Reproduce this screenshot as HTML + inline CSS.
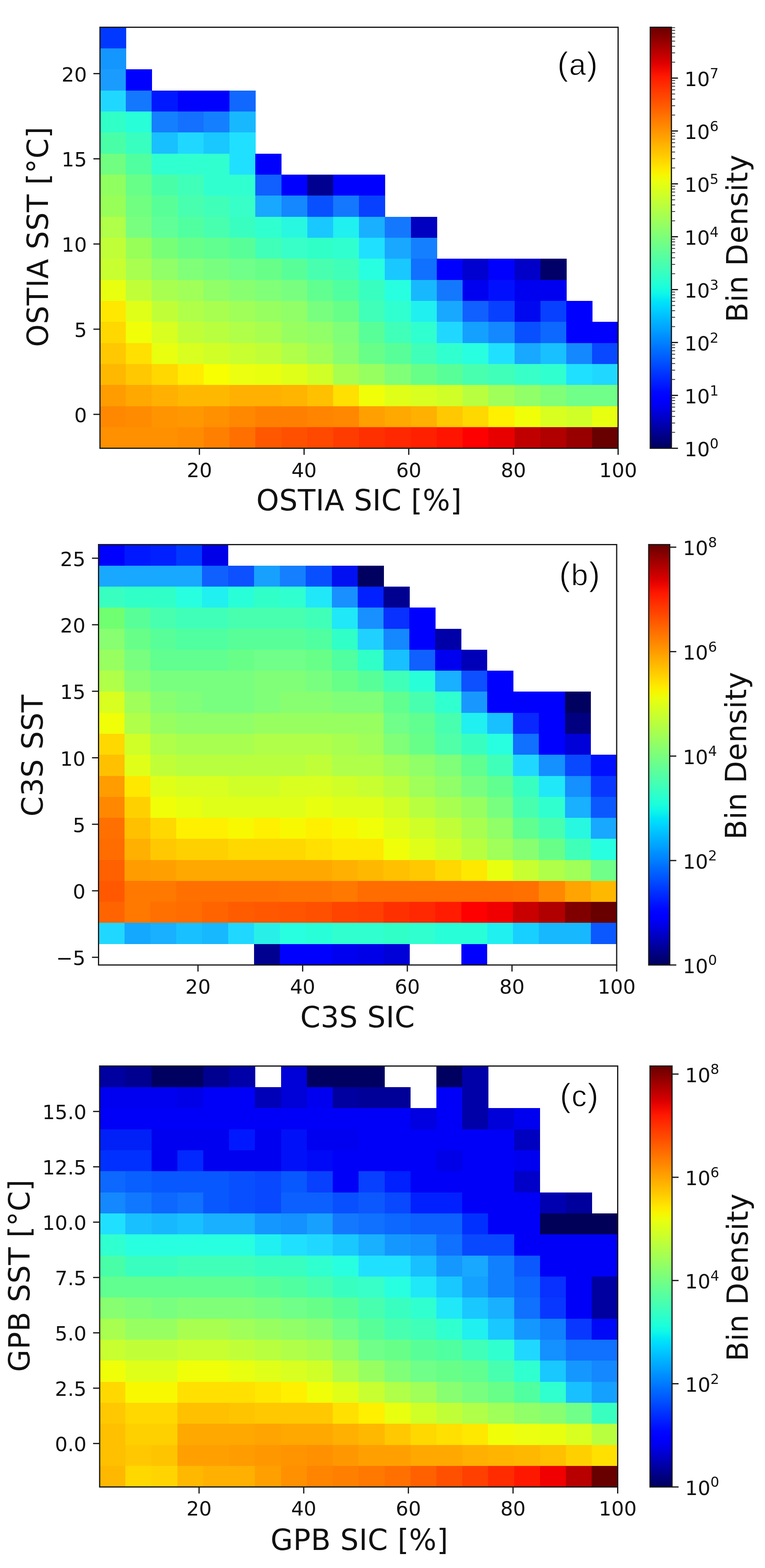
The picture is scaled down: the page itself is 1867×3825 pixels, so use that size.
<!DOCTYPE html>
<html><head><meta charset="utf-8"><title>Bin density histograms</title>
<style>html,body{margin:0;padding:0;background:#fff;} body{width:1867px;height:3825px;overflow:hidden;} svg{display:block;}</style>
</head><body>
<svg width="1867" height="3825" viewBox="0 0 1867 3825">
<rect width="1867" height="3825" fill="#fff"/>
<defs>
<linearGradient id="gA" x1="0" y1="1" x2="0" y2="0">
<stop offset="0.0000" stop-color="#00005c"/>
<stop offset="0.0167" stop-color="#000075"/>
<stop offset="0.0333" stop-color="#00008d"/>
<stop offset="0.0500" stop-color="#0000a6"/>
<stop offset="0.0667" stop-color="#0000bf"/>
<stop offset="0.0833" stop-color="#0000d7"/>
<stop offset="0.1000" stop-color="#0000f0"/>
<stop offset="0.1167" stop-color="#0000ff"/>
<stop offset="0.1333" stop-color="#0008ff"/>
<stop offset="0.1500" stop-color="#0019ff"/>
<stop offset="0.1667" stop-color="#002aff"/>
<stop offset="0.1833" stop-color="#003bff"/>
<stop offset="0.2000" stop-color="#004dff"/>
<stop offset="0.2167" stop-color="#005eff"/>
<stop offset="0.2333" stop-color="#006eff"/>
<stop offset="0.2500" stop-color="#0080ff"/>
<stop offset="0.2667" stop-color="#0090ff"/>
<stop offset="0.2833" stop-color="#00a2ff"/>
<stop offset="0.3000" stop-color="#00b2ff"/>
<stop offset="0.3167" stop-color="#00c3ff"/>
<stop offset="0.3333" stop-color="#00d4ff"/>
<stop offset="0.3500" stop-color="#00e5f7"/>
<stop offset="0.3667" stop-color="#0ef6e9"/>
<stop offset="0.3833" stop-color="#1bffdb"/>
<stop offset="0.4000" stop-color="#29ffce"/>
<stop offset="0.4167" stop-color="#37ffc0"/>
<stop offset="0.4333" stop-color="#45ffb2"/>
<stop offset="0.4500" stop-color="#52ffa5"/>
<stop offset="0.4667" stop-color="#60ff97"/>
<stop offset="0.4833" stop-color="#6eff89"/>
<stop offset="0.5000" stop-color="#7bff7b"/>
<stop offset="0.5167" stop-color="#89ff6e"/>
<stop offset="0.5333" stop-color="#97ff60"/>
<stop offset="0.5500" stop-color="#a5ff52"/>
<stop offset="0.5667" stop-color="#b2ff45"/>
<stop offset="0.5833" stop-color="#c0ff37"/>
<stop offset="0.6000" stop-color="#ceff29"/>
<stop offset="0.6167" stop-color="#dbff1b"/>
<stop offset="0.6333" stop-color="#e9ff0e"/>
<stop offset="0.6500" stop-color="#f7f600"/>
<stop offset="0.6667" stop-color="#ffe600"/>
<stop offset="0.6833" stop-color="#ffd600"/>
<stop offset="0.7000" stop-color="#ffc600"/>
<stop offset="0.7167" stop-color="#ffb700"/>
<stop offset="0.7333" stop-color="#ffa700"/>
<stop offset="0.7500" stop-color="#ff9700"/>
<stop offset="0.7667" stop-color="#ff8700"/>
<stop offset="0.7833" stop-color="#ff7800"/>
<stop offset="0.8000" stop-color="#ff6800"/>
<stop offset="0.8167" stop-color="#ff5800"/>
<stop offset="0.8333" stop-color="#ff4800"/>
<stop offset="0.8500" stop-color="#ff3900"/>
<stop offset="0.8667" stop-color="#ff2900"/>
<stop offset="0.8833" stop-color="#ff1900"/>
<stop offset="0.9000" stop-color="#f10900"/>
<stop offset="0.9167" stop-color="#db0000"/>
<stop offset="0.9333" stop-color="#c40000"/>
<stop offset="0.9500" stop-color="#ad0000"/>
<stop offset="0.9667" stop-color="#960000"/>
<stop offset="0.9833" stop-color="#7f0000"/>
<stop offset="1.0000" stop-color="#690000"/>
</linearGradient>
<linearGradient id="gB" x1="0" y1="1" x2="0" y2="0">
<stop offset="0.0000" stop-color="#00005c"/>
<stop offset="0.0167" stop-color="#000075"/>
<stop offset="0.0333" stop-color="#00008d"/>
<stop offset="0.0500" stop-color="#0000a6"/>
<stop offset="0.0667" stop-color="#0000bf"/>
<stop offset="0.0833" stop-color="#0000d7"/>
<stop offset="0.1000" stop-color="#0000f0"/>
<stop offset="0.1167" stop-color="#0000ff"/>
<stop offset="0.1333" stop-color="#0008ff"/>
<stop offset="0.1500" stop-color="#0019ff"/>
<stop offset="0.1667" stop-color="#002aff"/>
<stop offset="0.1833" stop-color="#003bff"/>
<stop offset="0.2000" stop-color="#004dff"/>
<stop offset="0.2167" stop-color="#005eff"/>
<stop offset="0.2333" stop-color="#006eff"/>
<stop offset="0.2500" stop-color="#0080ff"/>
<stop offset="0.2667" stop-color="#0090ff"/>
<stop offset="0.2833" stop-color="#00a2ff"/>
<stop offset="0.3000" stop-color="#00b2ff"/>
<stop offset="0.3167" stop-color="#00c3ff"/>
<stop offset="0.3333" stop-color="#00d4ff"/>
<stop offset="0.3500" stop-color="#00e5f7"/>
<stop offset="0.3667" stop-color="#0ef6e9"/>
<stop offset="0.3833" stop-color="#1bffdb"/>
<stop offset="0.4000" stop-color="#29ffce"/>
<stop offset="0.4167" stop-color="#37ffc0"/>
<stop offset="0.4333" stop-color="#45ffb2"/>
<stop offset="0.4500" stop-color="#52ffa5"/>
<stop offset="0.4667" stop-color="#60ff97"/>
<stop offset="0.4833" stop-color="#6eff89"/>
<stop offset="0.5000" stop-color="#7bff7b"/>
<stop offset="0.5167" stop-color="#89ff6e"/>
<stop offset="0.5333" stop-color="#97ff60"/>
<stop offset="0.5500" stop-color="#a5ff52"/>
<stop offset="0.5667" stop-color="#b2ff45"/>
<stop offset="0.5833" stop-color="#c0ff37"/>
<stop offset="0.6000" stop-color="#ceff29"/>
<stop offset="0.6167" stop-color="#dbff1b"/>
<stop offset="0.6333" stop-color="#e9ff0e"/>
<stop offset="0.6500" stop-color="#f7f600"/>
<stop offset="0.6667" stop-color="#ffe600"/>
<stop offset="0.6833" stop-color="#ffd600"/>
<stop offset="0.7000" stop-color="#ffc600"/>
<stop offset="0.7167" stop-color="#ffb700"/>
<stop offset="0.7333" stop-color="#ffa700"/>
<stop offset="0.7500" stop-color="#ff9700"/>
<stop offset="0.7667" stop-color="#ff8700"/>
<stop offset="0.7833" stop-color="#ff7800"/>
<stop offset="0.8000" stop-color="#ff6800"/>
<stop offset="0.8167" stop-color="#ff5800"/>
<stop offset="0.8333" stop-color="#ff4800"/>
<stop offset="0.8500" stop-color="#ff3900"/>
<stop offset="0.8667" stop-color="#ff2900"/>
<stop offset="0.8833" stop-color="#ff1900"/>
<stop offset="0.9000" stop-color="#f10900"/>
<stop offset="0.9167" stop-color="#db0000"/>
<stop offset="0.9333" stop-color="#c40000"/>
<stop offset="0.9500" stop-color="#ad0000"/>
<stop offset="0.9667" stop-color="#960000"/>
<stop offset="0.9833" stop-color="#7f0000"/>
<stop offset="1.0000" stop-color="#690000"/>
</linearGradient>
<linearGradient id="gC" x1="0" y1="1" x2="0" y2="0">
<stop offset="0.0000" stop-color="#00005c"/>
<stop offset="0.0167" stop-color="#000075"/>
<stop offset="0.0333" stop-color="#00008d"/>
<stop offset="0.0500" stop-color="#0000a6"/>
<stop offset="0.0667" stop-color="#0000bf"/>
<stop offset="0.0833" stop-color="#0000d7"/>
<stop offset="0.1000" stop-color="#0000f0"/>
<stop offset="0.1167" stop-color="#0000ff"/>
<stop offset="0.1333" stop-color="#0008ff"/>
<stop offset="0.1500" stop-color="#0019ff"/>
<stop offset="0.1667" stop-color="#002aff"/>
<stop offset="0.1833" stop-color="#003bff"/>
<stop offset="0.2000" stop-color="#004dff"/>
<stop offset="0.2167" stop-color="#005eff"/>
<stop offset="0.2333" stop-color="#006eff"/>
<stop offset="0.2500" stop-color="#0080ff"/>
<stop offset="0.2667" stop-color="#0090ff"/>
<stop offset="0.2833" stop-color="#00a2ff"/>
<stop offset="0.3000" stop-color="#00b2ff"/>
<stop offset="0.3167" stop-color="#00c3ff"/>
<stop offset="0.3333" stop-color="#00d4ff"/>
<stop offset="0.3500" stop-color="#00e5f7"/>
<stop offset="0.3667" stop-color="#0ef6e9"/>
<stop offset="0.3833" stop-color="#1bffdb"/>
<stop offset="0.4000" stop-color="#29ffce"/>
<stop offset="0.4167" stop-color="#37ffc0"/>
<stop offset="0.4333" stop-color="#45ffb2"/>
<stop offset="0.4500" stop-color="#52ffa5"/>
<stop offset="0.4667" stop-color="#60ff97"/>
<stop offset="0.4833" stop-color="#6eff89"/>
<stop offset="0.5000" stop-color="#7bff7b"/>
<stop offset="0.5167" stop-color="#89ff6e"/>
<stop offset="0.5333" stop-color="#97ff60"/>
<stop offset="0.5500" stop-color="#a5ff52"/>
<stop offset="0.5667" stop-color="#b2ff45"/>
<stop offset="0.5833" stop-color="#c0ff37"/>
<stop offset="0.6000" stop-color="#ceff29"/>
<stop offset="0.6167" stop-color="#dbff1b"/>
<stop offset="0.6333" stop-color="#e9ff0e"/>
<stop offset="0.6500" stop-color="#f7f600"/>
<stop offset="0.6667" stop-color="#ffe600"/>
<stop offset="0.6833" stop-color="#ffd600"/>
<stop offset="0.7000" stop-color="#ffc600"/>
<stop offset="0.7167" stop-color="#ffb700"/>
<stop offset="0.7333" stop-color="#ffa700"/>
<stop offset="0.7500" stop-color="#ff9700"/>
<stop offset="0.7667" stop-color="#ff8700"/>
<stop offset="0.7833" stop-color="#ff7800"/>
<stop offset="0.8000" stop-color="#ff6800"/>
<stop offset="0.8167" stop-color="#ff5800"/>
<stop offset="0.8333" stop-color="#ff4800"/>
<stop offset="0.8500" stop-color="#ff3900"/>
<stop offset="0.8667" stop-color="#ff2900"/>
<stop offset="0.8833" stop-color="#ff1900"/>
<stop offset="0.9000" stop-color="#f10900"/>
<stop offset="0.9167" stop-color="#db0000"/>
<stop offset="0.9333" stop-color="#c40000"/>
<stop offset="0.9500" stop-color="#ad0000"/>
<stop offset="0.9667" stop-color="#960000"/>
<stop offset="0.9833" stop-color="#7f0000"/>
<stop offset="1.0000" stop-color="#690000"/>
</linearGradient>
</defs>
<g shape-rendering="crispEdges">
<rect x="244.00" y="66.50" width="63.83" height="51.95" fill="#0038ff"/>
<rect x="244.00" y="117.85" width="63.83" height="51.95" fill="#1496ff"/>
<rect x="244.00" y="169.20" width="63.83" height="51.95" fill="#1a9cff"/>
<rect x="307.23" y="169.20" width="63.83" height="51.95" fill="#0000ff"/>
<rect x="244.00" y="220.55" width="63.83" height="51.95" fill="#20d8ff"/>
<rect x="307.23" y="220.55" width="63.83" height="51.95" fill="#1478ff"/>
<rect x="370.45" y="220.55" width="63.83" height="51.95" fill="#0018ff"/>
<rect x="433.68" y="220.55" width="63.83" height="51.95" fill="#0000ff"/>
<rect x="496.90" y="220.55" width="63.83" height="51.95" fill="#0000ff"/>
<rect x="560.12" y="220.55" width="63.83" height="51.95" fill="#1068ff"/>
<rect x="244.00" y="271.90" width="63.83" height="51.95" fill="#30ffc8"/>
<rect x="307.23" y="271.90" width="63.83" height="51.95" fill="#28ffd8"/>
<rect x="370.45" y="271.90" width="63.83" height="51.95" fill="#1480ff"/>
<rect x="433.68" y="271.90" width="63.83" height="51.95" fill="#1470ff"/>
<rect x="496.90" y="271.90" width="63.83" height="51.95" fill="#1480ff"/>
<rect x="560.12" y="271.90" width="63.83" height="51.95" fill="#18b8ff"/>
<rect x="244.00" y="323.25" width="63.83" height="51.95" fill="#48ffa8"/>
<rect x="307.23" y="323.25" width="63.83" height="51.95" fill="#38ffc0"/>
<rect x="370.45" y="323.25" width="63.83" height="51.95" fill="#18c0ff"/>
<rect x="433.68" y="323.25" width="63.83" height="51.95" fill="#20d8ff"/>
<rect x="496.90" y="323.25" width="63.83" height="51.95" fill="#18c8ff"/>
<rect x="560.12" y="323.25" width="63.83" height="51.95" fill="#20e0ff"/>
<rect x="244.00" y="374.60" width="63.83" height="51.95" fill="#70ff80"/>
<rect x="307.23" y="374.60" width="63.83" height="51.95" fill="#50ffa0"/>
<rect x="370.45" y="374.60" width="63.83" height="51.95" fill="#30ffd0"/>
<rect x="433.68" y="374.60" width="63.83" height="51.95" fill="#30ffd0"/>
<rect x="496.90" y="374.60" width="63.83" height="51.95" fill="#30ffd0"/>
<rect x="560.12" y="374.60" width="63.83" height="51.95" fill="#20e0ff"/>
<rect x="623.35" y="374.60" width="63.83" height="51.95" fill="#0000ff"/>
<rect x="244.00" y="425.95" width="63.83" height="51.95" fill="#90ff60"/>
<rect x="307.23" y="425.95" width="63.83" height="51.95" fill="#68ff88"/>
<rect x="370.45" y="425.95" width="63.83" height="51.95" fill="#48ffa8"/>
<rect x="433.68" y="425.95" width="63.83" height="51.95" fill="#40ffb8"/>
<rect x="496.90" y="425.95" width="63.83" height="51.95" fill="#30ffd0"/>
<rect x="560.12" y="425.95" width="63.83" height="51.95" fill="#30ffd0"/>
<rect x="623.35" y="425.95" width="63.83" height="51.95" fill="#1060ff"/>
<rect x="686.58" y="425.95" width="63.83" height="51.95" fill="#0000ff"/>
<rect x="749.80" y="425.95" width="63.83" height="51.95" fill="#000090"/>
<rect x="813.02" y="425.95" width="63.83" height="51.95" fill="#0000ff"/>
<rect x="876.25" y="425.95" width="63.83" height="51.95" fill="#0000ff"/>
<rect x="244.00" y="477.30" width="63.83" height="51.95" fill="#98ff58"/>
<rect x="307.23" y="477.30" width="63.83" height="51.95" fill="#70ff80"/>
<rect x="370.45" y="477.30" width="63.83" height="51.95" fill="#58ff98"/>
<rect x="433.68" y="477.30" width="63.83" height="51.95" fill="#48ffb0"/>
<rect x="496.90" y="477.30" width="63.83" height="51.95" fill="#40ffb8"/>
<rect x="560.12" y="477.30" width="63.83" height="51.95" fill="#38ffc8"/>
<rect x="623.35" y="477.30" width="63.83" height="51.95" fill="#18a8ff"/>
<rect x="686.58" y="477.30" width="63.83" height="51.95" fill="#1488ff"/>
<rect x="749.80" y="477.30" width="63.83" height="51.95" fill="#0850ff"/>
<rect x="813.02" y="477.30" width="63.83" height="51.95" fill="#1478ff"/>
<rect x="876.25" y="477.30" width="63.83" height="51.95" fill="#0840ff"/>
<rect x="244.00" y="528.65" width="63.83" height="51.95" fill="#b0ff48"/>
<rect x="307.23" y="528.65" width="63.83" height="51.95" fill="#78ff80"/>
<rect x="370.45" y="528.65" width="63.83" height="51.95" fill="#60ff98"/>
<rect x="433.68" y="528.65" width="63.83" height="51.95" fill="#50ffa0"/>
<rect x="496.90" y="528.65" width="63.83" height="51.95" fill="#48ffb0"/>
<rect x="560.12" y="528.65" width="63.83" height="51.95" fill="#38ffc0"/>
<rect x="623.35" y="528.65" width="63.83" height="51.95" fill="#30ffd0"/>
<rect x="686.58" y="528.65" width="63.83" height="51.95" fill="#28f8e0"/>
<rect x="749.80" y="528.65" width="63.83" height="51.95" fill="#18c8ff"/>
<rect x="813.02" y="528.65" width="63.83" height="51.95" fill="#20f0f0"/>
<rect x="876.25" y="528.65" width="63.83" height="51.95" fill="#18b0ff"/>
<rect x="939.48" y="528.65" width="63.83" height="51.95" fill="#1478ff"/>
<rect x="1002.70" y="528.65" width="63.83" height="51.95" fill="#0000c0"/>
<rect x="244.00" y="580.00" width="63.83" height="51.95" fill="#c0ff38"/>
<rect x="307.23" y="580.00" width="63.83" height="51.95" fill="#98ff58"/>
<rect x="370.45" y="580.00" width="63.83" height="51.95" fill="#78ff78"/>
<rect x="433.68" y="580.00" width="63.83" height="51.95" fill="#68ff88"/>
<rect x="496.90" y="580.00" width="63.83" height="51.95" fill="#60ff90"/>
<rect x="560.12" y="580.00" width="63.83" height="51.95" fill="#58ff98"/>
<rect x="623.35" y="580.00" width="63.83" height="51.95" fill="#40ffb8"/>
<rect x="686.58" y="580.00" width="63.83" height="51.95" fill="#38ffc8"/>
<rect x="749.80" y="580.00" width="63.83" height="51.95" fill="#30ffc8"/>
<rect x="813.02" y="580.00" width="63.83" height="51.95" fill="#30ffd0"/>
<rect x="876.25" y="580.00" width="63.83" height="51.95" fill="#20e0ff"/>
<rect x="939.48" y="580.00" width="63.83" height="51.95" fill="#18a8ff"/>
<rect x="1002.70" y="580.00" width="63.83" height="51.95" fill="#1480ff"/>
<rect x="244.00" y="631.35" width="63.83" height="51.95" fill="#c8ff30"/>
<rect x="307.23" y="631.35" width="63.83" height="51.95" fill="#a8ff50"/>
<rect x="370.45" y="631.35" width="63.83" height="51.95" fill="#90ff68"/>
<rect x="433.68" y="631.35" width="63.83" height="51.95" fill="#80ff78"/>
<rect x="496.90" y="631.35" width="63.83" height="51.95" fill="#78ff80"/>
<rect x="560.12" y="631.35" width="63.83" height="51.95" fill="#70ff88"/>
<rect x="623.35" y="631.35" width="63.83" height="51.95" fill="#68ff88"/>
<rect x="686.58" y="631.35" width="63.83" height="51.95" fill="#58ff98"/>
<rect x="749.80" y="631.35" width="63.83" height="51.95" fill="#48ffb0"/>
<rect x="813.02" y="631.35" width="63.83" height="51.95" fill="#40ffb8"/>
<rect x="876.25" y="631.35" width="63.83" height="51.95" fill="#28ffe0"/>
<rect x="939.48" y="631.35" width="63.83" height="51.95" fill="#18c8ff"/>
<rect x="1002.70" y="631.35" width="63.83" height="51.95" fill="#1070ff"/>
<rect x="1065.93" y="631.35" width="63.83" height="51.95" fill="#0000ff"/>
<rect x="1129.15" y="631.35" width="63.83" height="51.95" fill="#0000d0"/>
<rect x="1192.38" y="631.35" width="63.83" height="51.95" fill="#0000ff"/>
<rect x="1255.60" y="631.35" width="63.83" height="51.95" fill="#0000c8"/>
<rect x="1318.83" y="631.35" width="63.83" height="51.95" fill="#000068"/>
<rect x="244.00" y="682.70" width="63.83" height="51.95" fill="#e8ff10"/>
<rect x="307.23" y="682.70" width="63.83" height="51.95" fill="#c0ff38"/>
<rect x="370.45" y="682.70" width="63.83" height="51.95" fill="#a8ff50"/>
<rect x="433.68" y="682.70" width="63.83" height="51.95" fill="#a0ff58"/>
<rect x="496.90" y="682.70" width="63.83" height="51.95" fill="#90ff68"/>
<rect x="560.12" y="682.70" width="63.83" height="51.95" fill="#88ff70"/>
<rect x="623.35" y="682.70" width="63.83" height="51.95" fill="#80ff78"/>
<rect x="686.58" y="682.70" width="63.83" height="51.95" fill="#78ff80"/>
<rect x="749.80" y="682.70" width="63.83" height="51.95" fill="#60ff90"/>
<rect x="813.02" y="682.70" width="63.83" height="51.95" fill="#50ffa0"/>
<rect x="876.25" y="682.70" width="63.83" height="51.95" fill="#38ffc0"/>
<rect x="939.48" y="682.70" width="63.83" height="51.95" fill="#28ffe0"/>
<rect x="1002.70" y="682.70" width="63.83" height="51.95" fill="#18b8ff"/>
<rect x="1065.93" y="682.70" width="63.83" height="51.95" fill="#1478ff"/>
<rect x="1129.15" y="682.70" width="63.83" height="51.95" fill="#0000f0"/>
<rect x="1192.38" y="682.70" width="63.83" height="51.95" fill="#0010ff"/>
<rect x="1255.60" y="682.70" width="63.83" height="51.95" fill="#0000f0"/>
<rect x="1318.83" y="682.70" width="63.83" height="51.95" fill="#0000f0"/>
<rect x="244.00" y="734.05" width="63.83" height="51.95" fill="#ffe800"/>
<rect x="307.23" y="734.05" width="63.83" height="51.95" fill="#e0ff18"/>
<rect x="370.45" y="734.05" width="63.83" height="51.95" fill="#c0ff38"/>
<rect x="433.68" y="734.05" width="63.83" height="51.95" fill="#b0ff48"/>
<rect x="496.90" y="734.05" width="63.83" height="51.95" fill="#a8ff50"/>
<rect x="560.12" y="734.05" width="63.83" height="51.95" fill="#a0ff58"/>
<rect x="623.35" y="734.05" width="63.83" height="51.95" fill="#98ff60"/>
<rect x="686.58" y="734.05" width="63.83" height="51.95" fill="#90ff68"/>
<rect x="749.80" y="734.05" width="63.83" height="51.95" fill="#78ff80"/>
<rect x="813.02" y="734.05" width="63.83" height="51.95" fill="#68ff88"/>
<rect x="876.25" y="734.05" width="63.83" height="51.95" fill="#40ffb8"/>
<rect x="939.48" y="734.05" width="63.83" height="51.95" fill="#30ffd0"/>
<rect x="1002.70" y="734.05" width="63.83" height="51.95" fill="#20f0f0"/>
<rect x="1065.93" y="734.05" width="63.83" height="51.95" fill="#18a8ff"/>
<rect x="1129.15" y="734.05" width="63.83" height="51.95" fill="#1060ff"/>
<rect x="1192.38" y="734.05" width="63.83" height="51.95" fill="#0840ff"/>
<rect x="1255.60" y="734.05" width="63.83" height="51.95" fill="#0008f0"/>
<rect x="1318.83" y="734.05" width="63.83" height="51.95" fill="#0840ff"/>
<rect x="1382.05" y="734.05" width="63.83" height="51.95" fill="#0000ff"/>
<rect x="244.00" y="785.40" width="63.83" height="51.95" fill="#ffd800"/>
<rect x="307.23" y="785.40" width="63.83" height="51.95" fill="#f0ff08"/>
<rect x="370.45" y="785.40" width="63.83" height="51.95" fill="#d8ff20"/>
<rect x="433.68" y="785.40" width="63.83" height="51.95" fill="#c0ff38"/>
<rect x="496.90" y="785.40" width="63.83" height="51.95" fill="#b8ff40"/>
<rect x="560.12" y="785.40" width="63.83" height="51.95" fill="#b0ff48"/>
<rect x="623.35" y="785.40" width="63.83" height="51.95" fill="#a8ff50"/>
<rect x="686.58" y="785.40" width="63.83" height="51.95" fill="#98ff60"/>
<rect x="749.80" y="785.40" width="63.83" height="51.95" fill="#90ff68"/>
<rect x="813.02" y="785.40" width="63.83" height="51.95" fill="#80ff78"/>
<rect x="876.25" y="785.40" width="63.83" height="51.95" fill="#58ff98"/>
<rect x="939.48" y="785.40" width="63.83" height="51.95" fill="#40ffb8"/>
<rect x="1002.70" y="785.40" width="63.83" height="51.95" fill="#30ffd0"/>
<rect x="1065.93" y="785.40" width="63.83" height="51.95" fill="#20d8ff"/>
<rect x="1129.15" y="785.40" width="63.83" height="51.95" fill="#14a0ff"/>
<rect x="1192.38" y="785.40" width="63.83" height="51.95" fill="#1488ff"/>
<rect x="1255.60" y="785.40" width="63.83" height="51.95" fill="#0850ff"/>
<rect x="1318.83" y="785.40" width="63.83" height="51.95" fill="#0c68ff"/>
<rect x="1382.05" y="785.40" width="63.83" height="51.95" fill="#0000ff"/>
<rect x="1445.28" y="785.40" width="63.83" height="51.95" fill="#0000ff"/>
<rect x="244.00" y="836.75" width="63.83" height="51.95" fill="#ffc800"/>
<rect x="307.23" y="836.75" width="63.83" height="51.95" fill="#ffe000"/>
<rect x="370.45" y="836.75" width="63.83" height="51.95" fill="#e8ff10"/>
<rect x="433.68" y="836.75" width="63.83" height="51.95" fill="#d8ff20"/>
<rect x="496.90" y="836.75" width="63.83" height="51.95" fill="#d0ff28"/>
<rect x="560.12" y="836.75" width="63.83" height="51.95" fill="#c8ff30"/>
<rect x="623.35" y="836.75" width="63.83" height="51.95" fill="#c0ff38"/>
<rect x="686.58" y="836.75" width="63.83" height="51.95" fill="#b0ff48"/>
<rect x="749.80" y="836.75" width="63.83" height="51.95" fill="#a0ff58"/>
<rect x="813.02" y="836.75" width="63.83" height="51.95" fill="#88ff70"/>
<rect x="876.25" y="836.75" width="63.83" height="51.95" fill="#68ff88"/>
<rect x="939.48" y="836.75" width="63.83" height="51.95" fill="#58ff98"/>
<rect x="1002.70" y="836.75" width="63.83" height="51.95" fill="#40ffb8"/>
<rect x="1065.93" y="836.75" width="63.83" height="51.95" fill="#30ffd0"/>
<rect x="1129.15" y="836.75" width="63.83" height="51.95" fill="#28ffe0"/>
<rect x="1192.38" y="836.75" width="63.83" height="51.95" fill="#20e0ff"/>
<rect x="1255.60" y="836.75" width="63.83" height="51.95" fill="#18a8ff"/>
<rect x="1318.83" y="836.75" width="63.83" height="51.95" fill="#18c0ff"/>
<rect x="1382.05" y="836.75" width="63.83" height="51.95" fill="#1488ff"/>
<rect x="1445.28" y="836.75" width="63.83" height="51.95" fill="#0848ff"/>
<rect x="244.00" y="888.10" width="63.83" height="51.95" fill="#ffb800"/>
<rect x="307.23" y="888.10" width="63.83" height="51.95" fill="#ffc800"/>
<rect x="370.45" y="888.10" width="63.83" height="51.95" fill="#ffd800"/>
<rect x="433.68" y="888.10" width="63.83" height="51.95" fill="#ffec00"/>
<rect x="496.90" y="888.10" width="63.83" height="51.95" fill="#f8ff00"/>
<rect x="560.12" y="888.10" width="63.83" height="51.95" fill="#ecff10"/>
<rect x="623.35" y="888.10" width="63.83" height="51.95" fill="#e8ff10"/>
<rect x="686.58" y="888.10" width="63.83" height="51.95" fill="#e0ff18"/>
<rect x="749.80" y="888.10" width="63.83" height="51.95" fill="#d0ff28"/>
<rect x="813.02" y="888.10" width="63.83" height="51.95" fill="#a8ff50"/>
<rect x="876.25" y="888.10" width="63.83" height="51.95" fill="#98ff60"/>
<rect x="939.48" y="888.10" width="63.83" height="51.95" fill="#80ff78"/>
<rect x="1002.70" y="888.10" width="63.83" height="51.95" fill="#68ff88"/>
<rect x="1065.93" y="888.10" width="63.83" height="51.95" fill="#58ff98"/>
<rect x="1129.15" y="888.10" width="63.83" height="51.95" fill="#48ffb0"/>
<rect x="1192.38" y="888.10" width="63.83" height="51.95" fill="#40ffb8"/>
<rect x="1255.60" y="888.10" width="63.83" height="51.95" fill="#38ffc8"/>
<rect x="1318.83" y="888.10" width="63.83" height="51.95" fill="#30ffd0"/>
<rect x="1382.05" y="888.10" width="63.83" height="51.95" fill="#20e0ff"/>
<rect x="1445.28" y="888.10" width="63.83" height="51.95" fill="#20d8ff"/>
<rect x="244.00" y="939.45" width="63.83" height="51.95" fill="#ff9c00"/>
<rect x="307.23" y="939.45" width="63.83" height="51.95" fill="#ffa800"/>
<rect x="370.45" y="939.45" width="63.83" height="51.95" fill="#ffb000"/>
<rect x="433.68" y="939.45" width="63.83" height="51.95" fill="#ffb800"/>
<rect x="496.90" y="939.45" width="63.83" height="51.95" fill="#ffb800"/>
<rect x="560.12" y="939.45" width="63.83" height="51.95" fill="#ffb000"/>
<rect x="623.35" y="939.45" width="63.83" height="51.95" fill="#ffb000"/>
<rect x="686.58" y="939.45" width="63.83" height="51.95" fill="#ffb400"/>
<rect x="749.80" y="939.45" width="63.83" height="51.95" fill="#ffc000"/>
<rect x="813.02" y="939.45" width="63.83" height="51.95" fill="#ffe000"/>
<rect x="876.25" y="939.45" width="63.83" height="51.95" fill="#f0ff08"/>
<rect x="939.48" y="939.45" width="63.83" height="51.95" fill="#e0ff18"/>
<rect x="1002.70" y="939.45" width="63.83" height="51.95" fill="#d8ff20"/>
<rect x="1065.93" y="939.45" width="63.83" height="51.95" fill="#d0ff28"/>
<rect x="1129.15" y="939.45" width="63.83" height="51.95" fill="#b8ff40"/>
<rect x="1192.38" y="939.45" width="63.83" height="51.95" fill="#a0ff58"/>
<rect x="1255.60" y="939.45" width="63.83" height="51.95" fill="#90ff68"/>
<rect x="1318.83" y="939.45" width="63.83" height="51.95" fill="#80ff78"/>
<rect x="1382.05" y="939.45" width="63.83" height="51.95" fill="#70ff88"/>
<rect x="1445.28" y="939.45" width="63.83" height="51.95" fill="#70ff88"/>
<rect x="244.00" y="990.80" width="63.83" height="51.95" fill="#ff8800"/>
<rect x="307.23" y="990.80" width="63.83" height="51.95" fill="#ff8c00"/>
<rect x="370.45" y="990.80" width="63.83" height="51.95" fill="#ff9400"/>
<rect x="433.68" y="990.80" width="63.83" height="51.95" fill="#ff9800"/>
<rect x="496.90" y="990.80" width="63.83" height="51.95" fill="#ff9000"/>
<rect x="560.12" y="990.80" width="63.83" height="51.95" fill="#ff8800"/>
<rect x="623.35" y="990.80" width="63.83" height="51.95" fill="#ff8000"/>
<rect x="686.58" y="990.80" width="63.83" height="51.95" fill="#ff8000"/>
<rect x="749.80" y="990.80" width="63.83" height="51.95" fill="#ff8400"/>
<rect x="813.02" y="990.80" width="63.83" height="51.95" fill="#ff8800"/>
<rect x="876.25" y="990.80" width="63.83" height="51.95" fill="#ffa000"/>
<rect x="939.48" y="990.80" width="63.83" height="51.95" fill="#ffa800"/>
<rect x="1002.70" y="990.80" width="63.83" height="51.95" fill="#ffb000"/>
<rect x="1065.93" y="990.80" width="63.83" height="51.95" fill="#ffc800"/>
<rect x="1129.15" y="990.80" width="63.83" height="51.95" fill="#ffd800"/>
<rect x="1192.38" y="990.80" width="63.83" height="51.95" fill="#fff000"/>
<rect x="1255.60" y="990.80" width="63.83" height="51.95" fill="#f0ff08"/>
<rect x="1318.83" y="990.80" width="63.83" height="51.95" fill="#d8ff20"/>
<rect x="1382.05" y="990.80" width="63.83" height="51.95" fill="#d0ff28"/>
<rect x="1445.28" y="990.80" width="63.83" height="51.95" fill="#e8ff10"/>
<rect x="244.00" y="1042.15" width="63.83" height="51.95" fill="#ff9000"/>
<rect x="307.23" y="1042.15" width="63.83" height="51.95" fill="#ff9000"/>
<rect x="370.45" y="1042.15" width="63.83" height="51.95" fill="#ff9000"/>
<rect x="433.68" y="1042.15" width="63.83" height="51.95" fill="#ff8c00"/>
<rect x="496.90" y="1042.15" width="63.83" height="51.95" fill="#ff8000"/>
<rect x="560.12" y="1042.15" width="63.83" height="51.95" fill="#ff7000"/>
<rect x="623.35" y="1042.15" width="63.83" height="51.95" fill="#ff5800"/>
<rect x="686.58" y="1042.15" width="63.83" height="51.95" fill="#ff5000"/>
<rect x="749.80" y="1042.15" width="63.83" height="51.95" fill="#ff4800"/>
<rect x="813.02" y="1042.15" width="63.83" height="51.95" fill="#ff3c00"/>
<rect x="876.25" y="1042.15" width="63.83" height="51.95" fill="#ff3000"/>
<rect x="939.48" y="1042.15" width="63.83" height="51.95" fill="#ff2800"/>
<rect x="1002.70" y="1042.15" width="63.83" height="51.95" fill="#ff2000"/>
<rect x="1065.93" y="1042.15" width="63.83" height="51.95" fill="#ff1400"/>
<rect x="1129.15" y="1042.15" width="63.83" height="51.95" fill="#ff0000"/>
<rect x="1192.38" y="1042.15" width="63.83" height="51.95" fill="#e80000"/>
<rect x="1255.60" y="1042.15" width="63.83" height="51.95" fill="#c00000"/>
<rect x="1318.83" y="1042.15" width="63.83" height="51.95" fill="#b00000"/>
<rect x="1382.05" y="1042.15" width="63.83" height="51.95" fill="#980000"/>
<rect x="1445.28" y="1042.15" width="63.83" height="51.95" fill="#680000"/>
</g>
<rect x="244.00" y="66.50" width="1264.50" height="1027.00" fill="none" stroke="#1a1a1a" stroke-width="3.0"/>
<line x1="486.68" y1="1093.50" x2="486.68" y2="1109.50" stroke="#1a1a1a" stroke-width="3.0"/>
<text x="486.68" y="1163.50" font-family="'DejaVu Sans', 'Liberation Sans', sans-serif" font-size="48.5" text-anchor="middle" fill="#111" >20</text>
<line x1="742.14" y1="1093.50" x2="742.14" y2="1109.50" stroke="#1a1a1a" stroke-width="3.0"/>
<text x="742.14" y="1163.50" font-family="'DejaVu Sans', 'Liberation Sans', sans-serif" font-size="48.5" text-anchor="middle" fill="#111" >40</text>
<line x1="997.59" y1="1093.50" x2="997.59" y2="1109.50" stroke="#1a1a1a" stroke-width="3.0"/>
<text x="997.59" y="1163.50" font-family="'DejaVu Sans', 'Liberation Sans', sans-serif" font-size="48.5" text-anchor="middle" fill="#111" >60</text>
<line x1="1253.05" y1="1093.50" x2="1253.05" y2="1109.50" stroke="#1a1a1a" stroke-width="3.0"/>
<text x="1253.05" y="1163.50" font-family="'DejaVu Sans', 'Liberation Sans', sans-serif" font-size="48.5" text-anchor="middle" fill="#111" >80</text>
<line x1="1508.50" y1="1093.50" x2="1508.50" y2="1109.50" stroke="#1a1a1a" stroke-width="3.0"/>
<text x="1508.50" y="1163.50" font-family="'DejaVu Sans', 'Liberation Sans', sans-serif" font-size="48.5" text-anchor="middle" fill="#111" >100</text>
<line x1="228.00" y1="1010.80" x2="244.00" y2="1010.80" stroke="#1a1a1a" stroke-width="3.0"/>
<text x="212.00" y="1029.80" font-family="'DejaVu Sans', 'Liberation Sans', sans-serif" font-size="48.5" text-anchor="end" fill="#111" >0</text>
<line x1="228.00" y1="803.00" x2="244.00" y2="803.00" stroke="#1a1a1a" stroke-width="3.0"/>
<text x="212.00" y="822.00" font-family="'DejaVu Sans', 'Liberation Sans', sans-serif" font-size="48.5" text-anchor="end" fill="#111" >5</text>
<line x1="228.00" y1="595.20" x2="244.00" y2="595.20" stroke="#1a1a1a" stroke-width="3.0"/>
<text x="212.00" y="614.20" font-family="'DejaVu Sans', 'Liberation Sans', sans-serif" font-size="48.5" text-anchor="end" fill="#111" >10</text>
<line x1="228.00" y1="387.40" x2="244.00" y2="387.40" stroke="#1a1a1a" stroke-width="3.0"/>
<text x="212.00" y="406.40" font-family="'DejaVu Sans', 'Liberation Sans', sans-serif" font-size="48.5" text-anchor="end" fill="#111" >15</text>
<line x1="228.00" y1="179.60" x2="244.00" y2="179.60" stroke="#1a1a1a" stroke-width="3.0"/>
<text x="212.00" y="198.60" font-family="'DejaVu Sans', 'Liberation Sans', sans-serif" font-size="48.5" text-anchor="end" fill="#111" >20</text>
<text transform="translate(116.80,577.70) rotate(-90)" font-family="'DejaVu Sans', 'Liberation Sans', sans-serif" font-size="70.5" letter-spacing="0.6" text-anchor="middle" fill="#111" >OSTIA SST [°C]</text>
<text x="876.25" y="1244.80" font-family="'DejaVu Sans', 'Liberation Sans', sans-serif" font-size="70.5" letter-spacing="0.6" text-anchor="middle" fill="#111" >OSTIA SIC [%]</text>
<rect x="1587.00" y="66.50" width="51.60" height="1027.00" fill="url(#gA)"/>
<rect x="1587.00" y="66.50" width="51.60" height="1027.00" fill="none" stroke="#1a1a1a" stroke-width="3.0"/>
<line x1="1638.60" y1="1093.50" x2="1654.60" y2="1093.50" stroke="#1a1a1a" stroke-width="3.0"/>
<text x="1670.60" y="1113.00" font-family="'DejaVu Sans', 'Liberation Sans', sans-serif" font-size="48.5" fill="#111" >10<tspan dy="-19.5" font-size="33.9">0</tspan></text>
<line x1="1638.60" y1="964.50" x2="1654.60" y2="964.50" stroke="#1a1a1a" stroke-width="3.0"/>
<text x="1670.60" y="984.00" font-family="'DejaVu Sans', 'Liberation Sans', sans-serif" font-size="48.5" fill="#111" >10<tspan dy="-19.5" font-size="33.9">1</tspan></text>
<line x1="1638.60" y1="835.50" x2="1654.60" y2="835.50" stroke="#1a1a1a" stroke-width="3.0"/>
<text x="1670.60" y="855.00" font-family="'DejaVu Sans', 'Liberation Sans', sans-serif" font-size="48.5" fill="#111" >10<tspan dy="-19.5" font-size="33.9">2</tspan></text>
<line x1="1638.60" y1="706.50" x2="1654.60" y2="706.50" stroke="#1a1a1a" stroke-width="3.0"/>
<text x="1670.60" y="726.00" font-family="'DejaVu Sans', 'Liberation Sans', sans-serif" font-size="48.5" fill="#111" >10<tspan dy="-19.5" font-size="33.9">3</tspan></text>
<line x1="1638.60" y1="577.50" x2="1654.60" y2="577.50" stroke="#1a1a1a" stroke-width="3.0"/>
<text x="1670.60" y="597.00" font-family="'DejaVu Sans', 'Liberation Sans', sans-serif" font-size="48.5" fill="#111" >10<tspan dy="-19.5" font-size="33.9">4</tspan></text>
<line x1="1638.60" y1="448.50" x2="1654.60" y2="448.50" stroke="#1a1a1a" stroke-width="3.0"/>
<text x="1670.60" y="468.00" font-family="'DejaVu Sans', 'Liberation Sans', sans-serif" font-size="48.5" fill="#111" >10<tspan dy="-19.5" font-size="33.9">5</tspan></text>
<line x1="1638.60" y1="319.50" x2="1654.60" y2="319.50" stroke="#1a1a1a" stroke-width="3.0"/>
<text x="1670.60" y="339.00" font-family="'DejaVu Sans', 'Liberation Sans', sans-serif" font-size="48.5" fill="#111" >10<tspan dy="-19.5" font-size="33.9">6</tspan></text>
<line x1="1638.60" y1="190.50" x2="1654.60" y2="190.50" stroke="#1a1a1a" stroke-width="3.0"/>
<text x="1670.60" y="210.00" font-family="'DejaVu Sans', 'Liberation Sans', sans-serif" font-size="48.5" fill="#111" >10<tspan dy="-19.5" font-size="33.9">7</tspan></text>
<line x1="1638.60" y1="1054.67" x2="1647.60" y2="1054.67" stroke="#333" stroke-width="2.0"/>
<line x1="1638.60" y1="1031.95" x2="1647.60" y2="1031.95" stroke="#333" stroke-width="2.0"/>
<line x1="1638.60" y1="1015.83" x2="1647.60" y2="1015.83" stroke="#333" stroke-width="2.0"/>
<line x1="1638.60" y1="1003.33" x2="1647.60" y2="1003.33" stroke="#333" stroke-width="2.0"/>
<line x1="1638.60" y1="993.12" x2="1647.60" y2="993.12" stroke="#333" stroke-width="2.0"/>
<line x1="1638.60" y1="984.48" x2="1647.60" y2="984.48" stroke="#333" stroke-width="2.0"/>
<line x1="1638.60" y1="977.00" x2="1647.60" y2="977.00" stroke="#333" stroke-width="2.0"/>
<line x1="1638.60" y1="970.40" x2="1647.60" y2="970.40" stroke="#333" stroke-width="2.0"/>
<line x1="1638.60" y1="925.67" x2="1647.60" y2="925.67" stroke="#333" stroke-width="2.0"/>
<line x1="1638.60" y1="902.95" x2="1647.60" y2="902.95" stroke="#333" stroke-width="2.0"/>
<line x1="1638.60" y1="886.83" x2="1647.60" y2="886.83" stroke="#333" stroke-width="2.0"/>
<line x1="1638.60" y1="874.33" x2="1647.60" y2="874.33" stroke="#333" stroke-width="2.0"/>
<line x1="1638.60" y1="864.12" x2="1647.60" y2="864.12" stroke="#333" stroke-width="2.0"/>
<line x1="1638.60" y1="855.48" x2="1647.60" y2="855.48" stroke="#333" stroke-width="2.0"/>
<line x1="1638.60" y1="848.00" x2="1647.60" y2="848.00" stroke="#333" stroke-width="2.0"/>
<line x1="1638.60" y1="841.40" x2="1647.60" y2="841.40" stroke="#333" stroke-width="2.0"/>
<line x1="1638.60" y1="796.67" x2="1647.60" y2="796.67" stroke="#333" stroke-width="2.0"/>
<line x1="1638.60" y1="773.95" x2="1647.60" y2="773.95" stroke="#333" stroke-width="2.0"/>
<line x1="1638.60" y1="757.83" x2="1647.60" y2="757.83" stroke="#333" stroke-width="2.0"/>
<line x1="1638.60" y1="745.33" x2="1647.60" y2="745.33" stroke="#333" stroke-width="2.0"/>
<line x1="1638.60" y1="735.12" x2="1647.60" y2="735.12" stroke="#333" stroke-width="2.0"/>
<line x1="1638.60" y1="726.48" x2="1647.60" y2="726.48" stroke="#333" stroke-width="2.0"/>
<line x1="1638.60" y1="719.00" x2="1647.60" y2="719.00" stroke="#333" stroke-width="2.0"/>
<line x1="1638.60" y1="712.40" x2="1647.60" y2="712.40" stroke="#333" stroke-width="2.0"/>
<line x1="1638.60" y1="667.67" x2="1647.60" y2="667.67" stroke="#333" stroke-width="2.0"/>
<line x1="1638.60" y1="644.95" x2="1647.60" y2="644.95" stroke="#333" stroke-width="2.0"/>
<line x1="1638.60" y1="628.83" x2="1647.60" y2="628.83" stroke="#333" stroke-width="2.0"/>
<line x1="1638.60" y1="616.33" x2="1647.60" y2="616.33" stroke="#333" stroke-width="2.0"/>
<line x1="1638.60" y1="606.12" x2="1647.60" y2="606.12" stroke="#333" stroke-width="2.0"/>
<line x1="1638.60" y1="597.48" x2="1647.60" y2="597.48" stroke="#333" stroke-width="2.0"/>
<line x1="1638.60" y1="590.00" x2="1647.60" y2="590.00" stroke="#333" stroke-width="2.0"/>
<line x1="1638.60" y1="583.40" x2="1647.60" y2="583.40" stroke="#333" stroke-width="2.0"/>
<line x1="1638.60" y1="538.67" x2="1647.60" y2="538.67" stroke="#333" stroke-width="2.0"/>
<line x1="1638.60" y1="515.95" x2="1647.60" y2="515.95" stroke="#333" stroke-width="2.0"/>
<line x1="1638.60" y1="499.83" x2="1647.60" y2="499.83" stroke="#333" stroke-width="2.0"/>
<line x1="1638.60" y1="487.33" x2="1647.60" y2="487.33" stroke="#333" stroke-width="2.0"/>
<line x1="1638.60" y1="477.12" x2="1647.60" y2="477.12" stroke="#333" stroke-width="2.0"/>
<line x1="1638.60" y1="468.48" x2="1647.60" y2="468.48" stroke="#333" stroke-width="2.0"/>
<line x1="1638.60" y1="461.00" x2="1647.60" y2="461.00" stroke="#333" stroke-width="2.0"/>
<line x1="1638.60" y1="454.40" x2="1647.60" y2="454.40" stroke="#333" stroke-width="2.0"/>
<line x1="1638.60" y1="409.67" x2="1647.60" y2="409.67" stroke="#333" stroke-width="2.0"/>
<line x1="1638.60" y1="386.95" x2="1647.60" y2="386.95" stroke="#333" stroke-width="2.0"/>
<line x1="1638.60" y1="370.83" x2="1647.60" y2="370.83" stroke="#333" stroke-width="2.0"/>
<line x1="1638.60" y1="358.33" x2="1647.60" y2="358.33" stroke="#333" stroke-width="2.0"/>
<line x1="1638.60" y1="348.12" x2="1647.60" y2="348.12" stroke="#333" stroke-width="2.0"/>
<line x1="1638.60" y1="339.48" x2="1647.60" y2="339.48" stroke="#333" stroke-width="2.0"/>
<line x1="1638.60" y1="332.00" x2="1647.60" y2="332.00" stroke="#333" stroke-width="2.0"/>
<line x1="1638.60" y1="325.40" x2="1647.60" y2="325.40" stroke="#333" stroke-width="2.0"/>
<line x1="1638.60" y1="280.67" x2="1647.60" y2="280.67" stroke="#333" stroke-width="2.0"/>
<line x1="1638.60" y1="257.95" x2="1647.60" y2="257.95" stroke="#333" stroke-width="2.0"/>
<line x1="1638.60" y1="241.83" x2="1647.60" y2="241.83" stroke="#333" stroke-width="2.0"/>
<line x1="1638.60" y1="229.33" x2="1647.60" y2="229.33" stroke="#333" stroke-width="2.0"/>
<line x1="1638.60" y1="219.12" x2="1647.60" y2="219.12" stroke="#333" stroke-width="2.0"/>
<line x1="1638.60" y1="210.48" x2="1647.60" y2="210.48" stroke="#333" stroke-width="2.0"/>
<line x1="1638.60" y1="203.00" x2="1647.60" y2="203.00" stroke="#333" stroke-width="2.0"/>
<line x1="1638.60" y1="196.40" x2="1647.60" y2="196.40" stroke="#333" stroke-width="2.0"/>
<line x1="1638.60" y1="151.67" x2="1647.60" y2="151.67" stroke="#333" stroke-width="2.0"/>
<line x1="1638.60" y1="128.95" x2="1647.60" y2="128.95" stroke="#333" stroke-width="2.0"/>
<line x1="1638.60" y1="112.83" x2="1647.60" y2="112.83" stroke="#333" stroke-width="2.0"/>
<line x1="1638.60" y1="100.33" x2="1647.60" y2="100.33" stroke="#333" stroke-width="2.0"/>
<line x1="1638.60" y1="90.12" x2="1647.60" y2="90.12" stroke="#333" stroke-width="2.0"/>
<line x1="1638.60" y1="81.48" x2="1647.60" y2="81.48" stroke="#333" stroke-width="2.0"/>
<line x1="1638.60" y1="74.00" x2="1647.60" y2="74.00" stroke="#333" stroke-width="2.0"/>
<line x1="1638.60" y1="67.40" x2="1647.60" y2="67.40" stroke="#333" stroke-width="2.0"/>
<text transform="translate(1824.00,581.50) rotate(-90)" font-family="'DejaVu Sans', 'Liberation Sans', sans-serif" font-size="70.5" letter-spacing="0.6" text-anchor="middle" fill="#111" >Bin Density</text>
<text x="1360.30" y="182.70" font-family="'Liberation Sans', 'DejaVu Sans', sans-serif" font-size="80" fill="#000" stroke="#fff" stroke-width="1.3">(<tspan font-size="73.6" dx="2">a</tspan><tspan dx="2">)</tspan></text>
<g shape-rendering="crispEdges">
<rect x="240.50" y="1328.50" width="63.83" height="51.88" fill="#0000ff"/>
<rect x="303.73" y="1328.50" width="63.83" height="51.88" fill="#0018ff"/>
<rect x="366.95" y="1328.50" width="63.83" height="51.88" fill="#0020ff"/>
<rect x="430.18" y="1328.50" width="63.83" height="51.88" fill="#0038ff"/>
<rect x="493.40" y="1328.50" width="63.83" height="51.88" fill="#0000e8"/>
<rect x="240.50" y="1379.78" width="63.83" height="51.88" fill="#18a8ff"/>
<rect x="303.73" y="1379.78" width="63.83" height="51.88" fill="#18a8ff"/>
<rect x="366.95" y="1379.78" width="63.83" height="51.88" fill="#18a8ff"/>
<rect x="430.18" y="1379.78" width="63.83" height="51.88" fill="#18a8ff"/>
<rect x="493.40" y="1379.78" width="63.83" height="51.88" fill="#1060ff"/>
<rect x="556.62" y="1379.78" width="63.83" height="51.88" fill="#0c50ff"/>
<rect x="619.85" y="1379.78" width="63.83" height="51.88" fill="#18a0ff"/>
<rect x="683.08" y="1379.78" width="63.83" height="51.88" fill="#1480ff"/>
<rect x="746.30" y="1379.78" width="63.83" height="51.88" fill="#0850ff"/>
<rect x="809.52" y="1379.78" width="63.83" height="51.88" fill="#0010f0"/>
<rect x="872.75" y="1379.78" width="63.83" height="51.88" fill="#000060"/>
<rect x="240.50" y="1431.05" width="63.83" height="51.88" fill="#38ffc0"/>
<rect x="303.73" y="1431.05" width="63.83" height="51.88" fill="#30ffc8"/>
<rect x="366.95" y="1431.05" width="63.83" height="51.88" fill="#30ffc8"/>
<rect x="430.18" y="1431.05" width="63.83" height="51.88" fill="#28ffe0"/>
<rect x="493.40" y="1431.05" width="63.83" height="51.88" fill="#20f0f0"/>
<rect x="556.62" y="1431.05" width="63.83" height="51.88" fill="#28ffd8"/>
<rect x="619.85" y="1431.05" width="63.83" height="51.88" fill="#30ffc8"/>
<rect x="683.08" y="1431.05" width="63.83" height="51.88" fill="#30ffd0"/>
<rect x="746.30" y="1431.05" width="63.83" height="51.88" fill="#20e8f8"/>
<rect x="809.52" y="1431.05" width="63.83" height="51.88" fill="#1890ff"/>
<rect x="872.75" y="1431.05" width="63.83" height="51.88" fill="#0020ff"/>
<rect x="935.98" y="1431.05" width="63.83" height="51.88" fill="#000090"/>
<rect x="240.50" y="1482.33" width="63.83" height="51.88" fill="#70ff70"/>
<rect x="303.73" y="1482.33" width="63.83" height="51.88" fill="#58ff98"/>
<rect x="366.95" y="1482.33" width="63.83" height="51.88" fill="#48ffb0"/>
<rect x="430.18" y="1482.33" width="63.83" height="51.88" fill="#40ffb8"/>
<rect x="493.40" y="1482.33" width="63.83" height="51.88" fill="#40ffb8"/>
<rect x="556.62" y="1482.33" width="63.83" height="51.88" fill="#48ffb0"/>
<rect x="619.85" y="1482.33" width="63.83" height="51.88" fill="#48ffb0"/>
<rect x="683.08" y="1482.33" width="63.83" height="51.88" fill="#48ffb0"/>
<rect x="746.30" y="1482.33" width="63.83" height="51.88" fill="#40ffb8"/>
<rect x="809.52" y="1482.33" width="63.83" height="51.88" fill="#20e8f8"/>
<rect x="872.75" y="1482.33" width="63.83" height="51.88" fill="#1890ff"/>
<rect x="935.98" y="1482.33" width="63.83" height="51.88" fill="#0830ff"/>
<rect x="999.20" y="1482.33" width="63.83" height="51.88" fill="#0000ff"/>
<rect x="240.50" y="1533.60" width="63.83" height="51.88" fill="#88ff70"/>
<rect x="303.73" y="1533.60" width="63.83" height="51.88" fill="#68ff88"/>
<rect x="366.95" y="1533.60" width="63.83" height="51.88" fill="#58ff98"/>
<rect x="430.18" y="1533.60" width="63.83" height="51.88" fill="#50ffa0"/>
<rect x="493.40" y="1533.60" width="63.83" height="51.88" fill="#50ffa0"/>
<rect x="556.62" y="1533.60" width="63.83" height="51.88" fill="#58ff98"/>
<rect x="619.85" y="1533.60" width="63.83" height="51.88" fill="#58ff98"/>
<rect x="683.08" y="1533.60" width="63.83" height="51.88" fill="#58ff98"/>
<rect x="746.30" y="1533.60" width="63.83" height="51.88" fill="#50ffa0"/>
<rect x="809.52" y="1533.60" width="63.83" height="51.88" fill="#30ffc8"/>
<rect x="872.75" y="1533.60" width="63.83" height="51.88" fill="#20d0ff"/>
<rect x="935.98" y="1533.60" width="63.83" height="51.88" fill="#1488ff"/>
<rect x="999.20" y="1533.60" width="63.83" height="51.88" fill="#0000ff"/>
<rect x="1062.43" y="1533.60" width="63.83" height="51.88" fill="#0000a8"/>
<rect x="240.50" y="1584.88" width="63.83" height="51.88" fill="#98ff60"/>
<rect x="303.73" y="1584.88" width="63.83" height="51.88" fill="#78ff80"/>
<rect x="366.95" y="1584.88" width="63.83" height="51.88" fill="#60ff90"/>
<rect x="430.18" y="1584.88" width="63.83" height="51.88" fill="#60ff90"/>
<rect x="493.40" y="1584.88" width="63.83" height="51.88" fill="#60ff90"/>
<rect x="556.62" y="1584.88" width="63.83" height="51.88" fill="#68ff88"/>
<rect x="619.85" y="1584.88" width="63.83" height="51.88" fill="#70ff88"/>
<rect x="683.08" y="1584.88" width="63.83" height="51.88" fill="#70ff88"/>
<rect x="746.30" y="1584.88" width="63.83" height="51.88" fill="#68ff88"/>
<rect x="809.52" y="1584.88" width="63.83" height="51.88" fill="#50ffa0"/>
<rect x="872.75" y="1584.88" width="63.83" height="51.88" fill="#30ffc8"/>
<rect x="935.98" y="1584.88" width="63.83" height="51.88" fill="#18c0ff"/>
<rect x="999.20" y="1584.88" width="63.83" height="51.88" fill="#1060ff"/>
<rect x="1062.43" y="1584.88" width="63.83" height="51.88" fill="#0000f0"/>
<rect x="1125.65" y="1584.88" width="63.83" height="51.88" fill="#0000b8"/>
<rect x="240.50" y="1636.15" width="63.83" height="51.88" fill="#b0ff48"/>
<rect x="303.73" y="1636.15" width="63.83" height="51.88" fill="#88ff70"/>
<rect x="366.95" y="1636.15" width="63.83" height="51.88" fill="#78ff80"/>
<rect x="430.18" y="1636.15" width="63.83" height="51.88" fill="#78ff80"/>
<rect x="493.40" y="1636.15" width="63.83" height="51.88" fill="#78ff80"/>
<rect x="556.62" y="1636.15" width="63.83" height="51.88" fill="#78ff80"/>
<rect x="619.85" y="1636.15" width="63.83" height="51.88" fill="#80ff78"/>
<rect x="683.08" y="1636.15" width="63.83" height="51.88" fill="#80ff78"/>
<rect x="746.30" y="1636.15" width="63.83" height="51.88" fill="#78ff80"/>
<rect x="809.52" y="1636.15" width="63.83" height="51.88" fill="#68ff88"/>
<rect x="872.75" y="1636.15" width="63.83" height="51.88" fill="#58ff98"/>
<rect x="935.98" y="1636.15" width="63.83" height="51.88" fill="#40ffb8"/>
<rect x="999.20" y="1636.15" width="63.83" height="51.88" fill="#28ffd8"/>
<rect x="1062.43" y="1636.15" width="63.83" height="51.88" fill="#18b0ff"/>
<rect x="1125.65" y="1636.15" width="63.83" height="51.88" fill="#0c50ff"/>
<rect x="1188.88" y="1636.15" width="63.83" height="51.88" fill="#0000ff"/>
<rect x="240.50" y="1687.42" width="63.83" height="51.88" fill="#d8ff20"/>
<rect x="303.73" y="1687.42" width="63.83" height="51.88" fill="#a0ff58"/>
<rect x="366.95" y="1687.42" width="63.83" height="51.88" fill="#88ff70"/>
<rect x="430.18" y="1687.42" width="63.83" height="51.88" fill="#80ff78"/>
<rect x="493.40" y="1687.42" width="63.83" height="51.88" fill="#78ff80"/>
<rect x="556.62" y="1687.42" width="63.83" height="51.88" fill="#78ff80"/>
<rect x="619.85" y="1687.42" width="63.83" height="51.88" fill="#80ff78"/>
<rect x="683.08" y="1687.42" width="63.83" height="51.88" fill="#88ff70"/>
<rect x="746.30" y="1687.42" width="63.83" height="51.88" fill="#88ff70"/>
<rect x="809.52" y="1687.42" width="63.83" height="51.88" fill="#80ff78"/>
<rect x="872.75" y="1687.42" width="63.83" height="51.88" fill="#80ff78"/>
<rect x="935.98" y="1687.42" width="63.83" height="51.88" fill="#60ff90"/>
<rect x="999.20" y="1687.42" width="63.83" height="51.88" fill="#48ffb0"/>
<rect x="1062.43" y="1687.42" width="63.83" height="51.88" fill="#30ffd0"/>
<rect x="1125.65" y="1687.42" width="63.83" height="51.88" fill="#1898ff"/>
<rect x="1188.88" y="1687.42" width="63.83" height="51.88" fill="#0000ff"/>
<rect x="1252.10" y="1687.42" width="63.83" height="51.88" fill="#0000ff"/>
<rect x="1315.33" y="1687.42" width="63.83" height="51.88" fill="#0000ff"/>
<rect x="1378.55" y="1687.42" width="63.83" height="51.88" fill="#000060"/>
<rect x="240.50" y="1738.70" width="63.83" height="51.88" fill="#f0ff08"/>
<rect x="303.73" y="1738.70" width="63.83" height="51.88" fill="#b0ff48"/>
<rect x="366.95" y="1738.70" width="63.83" height="51.88" fill="#98ff60"/>
<rect x="430.18" y="1738.70" width="63.83" height="51.88" fill="#90ff68"/>
<rect x="493.40" y="1738.70" width="63.83" height="51.88" fill="#90ff68"/>
<rect x="556.62" y="1738.70" width="63.83" height="51.88" fill="#90ff68"/>
<rect x="619.85" y="1738.70" width="63.83" height="51.88" fill="#98ff60"/>
<rect x="683.08" y="1738.70" width="63.83" height="51.88" fill="#98ff60"/>
<rect x="746.30" y="1738.70" width="63.83" height="51.88" fill="#98ff60"/>
<rect x="809.52" y="1738.70" width="63.83" height="51.88" fill="#98ff60"/>
<rect x="872.75" y="1738.70" width="63.83" height="51.88" fill="#98ff60"/>
<rect x="935.98" y="1738.70" width="63.83" height="51.88" fill="#70ff88"/>
<rect x="999.20" y="1738.70" width="63.83" height="51.88" fill="#60ff90"/>
<rect x="1062.43" y="1738.70" width="63.83" height="51.88" fill="#48ffb0"/>
<rect x="1125.65" y="1738.70" width="63.83" height="51.88" fill="#20f0f0"/>
<rect x="1188.88" y="1738.70" width="63.83" height="51.88" fill="#18c0ff"/>
<rect x="1252.10" y="1738.70" width="63.83" height="51.88" fill="#0828ff"/>
<rect x="1315.33" y="1738.70" width="63.83" height="51.88" fill="#0000ff"/>
<rect x="1378.55" y="1738.70" width="63.83" height="51.88" fill="#000080"/>
<rect x="240.50" y="1789.97" width="63.83" height="51.88" fill="#ffd800"/>
<rect x="303.73" y="1789.97" width="63.83" height="51.88" fill="#d0ff28"/>
<rect x="366.95" y="1789.97" width="63.83" height="51.88" fill="#b0ff48"/>
<rect x="430.18" y="1789.97" width="63.83" height="51.88" fill="#a8ff50"/>
<rect x="493.40" y="1789.97" width="63.83" height="51.88" fill="#a8ff50"/>
<rect x="556.62" y="1789.97" width="63.83" height="51.88" fill="#a8ff50"/>
<rect x="619.85" y="1789.97" width="63.83" height="51.88" fill="#b0ff48"/>
<rect x="683.08" y="1789.97" width="63.83" height="51.88" fill="#b0ff48"/>
<rect x="746.30" y="1789.97" width="63.83" height="51.88" fill="#b0ff48"/>
<rect x="809.52" y="1789.97" width="63.83" height="51.88" fill="#a8ff50"/>
<rect x="872.75" y="1789.97" width="63.83" height="51.88" fill="#a0ff58"/>
<rect x="935.98" y="1789.97" width="63.83" height="51.88" fill="#80ff78"/>
<rect x="999.20" y="1789.97" width="63.83" height="51.88" fill="#68ff88"/>
<rect x="1062.43" y="1789.97" width="63.83" height="51.88" fill="#50ffa8"/>
<rect x="1125.65" y="1789.97" width="63.83" height="51.88" fill="#38ffc0"/>
<rect x="1188.88" y="1789.97" width="63.83" height="51.88" fill="#28ffe0"/>
<rect x="1252.10" y="1789.97" width="63.83" height="51.88" fill="#1070ff"/>
<rect x="1315.33" y="1789.97" width="63.83" height="51.88" fill="#0000ff"/>
<rect x="1378.55" y="1789.97" width="63.83" height="51.88" fill="#0000d8"/>
<rect x="240.50" y="1841.25" width="63.83" height="51.88" fill="#ffc000"/>
<rect x="303.73" y="1841.25" width="63.83" height="51.88" fill="#e0ff18"/>
<rect x="366.95" y="1841.25" width="63.83" height="51.88" fill="#c0ff38"/>
<rect x="430.18" y="1841.25" width="63.83" height="51.88" fill="#b8ff40"/>
<rect x="493.40" y="1841.25" width="63.83" height="51.88" fill="#b8ff40"/>
<rect x="556.62" y="1841.25" width="63.83" height="51.88" fill="#b8ff40"/>
<rect x="619.85" y="1841.25" width="63.83" height="51.88" fill="#b8ff40"/>
<rect x="683.08" y="1841.25" width="63.83" height="51.88" fill="#b8ff40"/>
<rect x="746.30" y="1841.25" width="63.83" height="51.88" fill="#c0ff38"/>
<rect x="809.52" y="1841.25" width="63.83" height="51.88" fill="#b0ff48"/>
<rect x="872.75" y="1841.25" width="63.83" height="51.88" fill="#b0ff48"/>
<rect x="935.98" y="1841.25" width="63.83" height="51.88" fill="#a0ff58"/>
<rect x="999.20" y="1841.25" width="63.83" height="51.88" fill="#90ff68"/>
<rect x="1062.43" y="1841.25" width="63.83" height="51.88" fill="#80ff78"/>
<rect x="1125.65" y="1841.25" width="63.83" height="51.88" fill="#60ff90"/>
<rect x="1188.88" y="1841.25" width="63.83" height="51.88" fill="#40ffb8"/>
<rect x="1252.10" y="1841.25" width="63.83" height="51.88" fill="#20d8ff"/>
<rect x="1315.33" y="1841.25" width="63.83" height="51.88" fill="#1490ff"/>
<rect x="1378.55" y="1841.25" width="63.83" height="51.88" fill="#0848ff"/>
<rect x="1441.78" y="1841.25" width="63.83" height="51.88" fill="#0010ff"/>
<rect x="240.50" y="1892.53" width="63.83" height="51.88" fill="#ff9c00"/>
<rect x="303.73" y="1892.53" width="63.83" height="51.88" fill="#ffe800"/>
<rect x="366.95" y="1892.53" width="63.83" height="51.88" fill="#e0ff18"/>
<rect x="430.18" y="1892.53" width="63.83" height="51.88" fill="#d8ff20"/>
<rect x="493.40" y="1892.53" width="63.83" height="51.88" fill="#d8ff20"/>
<rect x="556.62" y="1892.53" width="63.83" height="51.88" fill="#d0ff28"/>
<rect x="619.85" y="1892.53" width="63.83" height="51.88" fill="#d0ff28"/>
<rect x="683.08" y="1892.53" width="63.83" height="51.88" fill="#d8ff20"/>
<rect x="746.30" y="1892.53" width="63.83" height="51.88" fill="#d8ff20"/>
<rect x="809.52" y="1892.53" width="63.83" height="51.88" fill="#d0ff28"/>
<rect x="872.75" y="1892.53" width="63.83" height="51.88" fill="#c8ff30"/>
<rect x="935.98" y="1892.53" width="63.83" height="51.88" fill="#b8ff40"/>
<rect x="999.20" y="1892.53" width="63.83" height="51.88" fill="#a0ff58"/>
<rect x="1062.43" y="1892.53" width="63.83" height="51.88" fill="#90ff68"/>
<rect x="1125.65" y="1892.53" width="63.83" height="51.88" fill="#78ff80"/>
<rect x="1188.88" y="1892.53" width="63.83" height="51.88" fill="#60ff90"/>
<rect x="1252.10" y="1892.53" width="63.83" height="51.88" fill="#38ffc0"/>
<rect x="1315.33" y="1892.53" width="63.83" height="51.88" fill="#20e8f8"/>
<rect x="1378.55" y="1892.53" width="63.83" height="51.88" fill="#1490ff"/>
<rect x="1441.78" y="1892.53" width="63.83" height="51.88" fill="#0838ff"/>
<rect x="240.50" y="1943.80" width="63.83" height="51.88" fill="#ff8800"/>
<rect x="303.73" y="1943.80" width="63.83" height="51.88" fill="#ffd000"/>
<rect x="366.95" y="1943.80" width="63.83" height="51.88" fill="#f0ff08"/>
<rect x="430.18" y="1943.80" width="63.83" height="51.88" fill="#e8ff10"/>
<rect x="493.40" y="1943.80" width="63.83" height="51.88" fill="#e0ff18"/>
<rect x="556.62" y="1943.80" width="63.83" height="51.88" fill="#e0ff18"/>
<rect x="619.85" y="1943.80" width="63.83" height="51.88" fill="#e0ff18"/>
<rect x="683.08" y="1943.80" width="63.83" height="51.88" fill="#e0ff18"/>
<rect x="746.30" y="1943.80" width="63.83" height="51.88" fill="#e8ff10"/>
<rect x="809.52" y="1943.80" width="63.83" height="51.88" fill="#e0ff18"/>
<rect x="872.75" y="1943.80" width="63.83" height="51.88" fill="#e0ff18"/>
<rect x="935.98" y="1943.80" width="63.83" height="51.88" fill="#d0ff28"/>
<rect x="999.20" y="1943.80" width="63.83" height="51.88" fill="#b8ff40"/>
<rect x="1062.43" y="1943.80" width="63.83" height="51.88" fill="#a8ff50"/>
<rect x="1125.65" y="1943.80" width="63.83" height="51.88" fill="#98ff60"/>
<rect x="1188.88" y="1943.80" width="63.83" height="51.88" fill="#78ff80"/>
<rect x="1252.10" y="1943.80" width="63.83" height="51.88" fill="#48ffb0"/>
<rect x="1315.33" y="1943.80" width="63.83" height="51.88" fill="#30ffd0"/>
<rect x="1378.55" y="1943.80" width="63.83" height="51.88" fill="#18b0ff"/>
<rect x="1441.78" y="1943.80" width="63.83" height="51.88" fill="#0c58ff"/>
<rect x="240.50" y="1995.07" width="63.83" height="51.88" fill="#ff7000"/>
<rect x="303.73" y="1995.07" width="63.83" height="51.88" fill="#ffc000"/>
<rect x="366.95" y="1995.07" width="63.83" height="51.88" fill="#ffd800"/>
<rect x="430.18" y="1995.07" width="63.83" height="51.88" fill="#fff000"/>
<rect x="493.40" y="1995.07" width="63.83" height="51.88" fill="#fff000"/>
<rect x="556.62" y="1995.07" width="63.83" height="51.88" fill="#f8f800"/>
<rect x="619.85" y="1995.07" width="63.83" height="51.88" fill="#fff000"/>
<rect x="683.08" y="1995.07" width="63.83" height="51.88" fill="#f8f800"/>
<rect x="746.30" y="1995.07" width="63.83" height="51.88" fill="#fff000"/>
<rect x="809.52" y="1995.07" width="63.83" height="51.88" fill="#f8f800"/>
<rect x="872.75" y="1995.07" width="63.83" height="51.88" fill="#f0ff08"/>
<rect x="935.98" y="1995.07" width="63.83" height="51.88" fill="#e0ff18"/>
<rect x="999.20" y="1995.07" width="63.83" height="51.88" fill="#d0ff28"/>
<rect x="1062.43" y="1995.07" width="63.83" height="51.88" fill="#c0ff38"/>
<rect x="1125.65" y="1995.07" width="63.83" height="51.88" fill="#a8ff50"/>
<rect x="1188.88" y="1995.07" width="63.83" height="51.88" fill="#90ff68"/>
<rect x="1252.10" y="1995.07" width="63.83" height="51.88" fill="#60ff90"/>
<rect x="1315.33" y="1995.07" width="63.83" height="51.88" fill="#48ffb0"/>
<rect x="1378.55" y="1995.07" width="63.83" height="51.88" fill="#28f8e0"/>
<rect x="1441.78" y="1995.07" width="63.83" height="51.88" fill="#18a8ff"/>
<rect x="240.50" y="2046.35" width="63.83" height="51.88" fill="#ff6c00"/>
<rect x="303.73" y="2046.35" width="63.83" height="51.88" fill="#ffb000"/>
<rect x="366.95" y="2046.35" width="63.83" height="51.88" fill="#ffc800"/>
<rect x="430.18" y="2046.35" width="63.83" height="51.88" fill="#ffd000"/>
<rect x="493.40" y="2046.35" width="63.83" height="51.88" fill="#ffd000"/>
<rect x="556.62" y="2046.35" width="63.83" height="51.88" fill="#ffd800"/>
<rect x="619.85" y="2046.35" width="63.83" height="51.88" fill="#ffd800"/>
<rect x="683.08" y="2046.35" width="63.83" height="51.88" fill="#ffd800"/>
<rect x="746.30" y="2046.35" width="63.83" height="51.88" fill="#ffe000"/>
<rect x="809.52" y="2046.35" width="63.83" height="51.88" fill="#ffe800"/>
<rect x="872.75" y="2046.35" width="63.83" height="51.88" fill="#ffe800"/>
<rect x="935.98" y="2046.35" width="63.83" height="51.88" fill="#f0ff08"/>
<rect x="999.20" y="2046.35" width="63.83" height="51.88" fill="#e0ff18"/>
<rect x="1062.43" y="2046.35" width="63.83" height="51.88" fill="#d0ff28"/>
<rect x="1125.65" y="2046.35" width="63.83" height="51.88" fill="#b8ff40"/>
<rect x="1188.88" y="2046.35" width="63.83" height="51.88" fill="#a0ff58"/>
<rect x="1252.10" y="2046.35" width="63.83" height="51.88" fill="#88ff70"/>
<rect x="1315.33" y="2046.35" width="63.83" height="51.88" fill="#68ff88"/>
<rect x="1378.55" y="2046.35" width="63.83" height="51.88" fill="#40ffb8"/>
<rect x="1441.78" y="2046.35" width="63.83" height="51.88" fill="#28ffe0"/>
<rect x="240.50" y="2097.62" width="63.83" height="51.88" fill="#ff6000"/>
<rect x="303.73" y="2097.62" width="63.83" height="51.88" fill="#ff9c00"/>
<rect x="366.95" y="2097.62" width="63.83" height="51.88" fill="#ffa000"/>
<rect x="430.18" y="2097.62" width="63.83" height="51.88" fill="#ffa800"/>
<rect x="493.40" y="2097.62" width="63.83" height="51.88" fill="#ffa800"/>
<rect x="556.62" y="2097.62" width="63.83" height="51.88" fill="#ffa800"/>
<rect x="619.85" y="2097.62" width="63.83" height="51.88" fill="#ffa800"/>
<rect x="683.08" y="2097.62" width="63.83" height="51.88" fill="#ffa800"/>
<rect x="746.30" y="2097.62" width="63.83" height="51.88" fill="#ffa800"/>
<rect x="809.52" y="2097.62" width="63.83" height="51.88" fill="#ffb000"/>
<rect x="872.75" y="2097.62" width="63.83" height="51.88" fill="#ffb800"/>
<rect x="935.98" y="2097.62" width="63.83" height="51.88" fill="#ffc000"/>
<rect x="999.20" y="2097.62" width="63.83" height="51.88" fill="#ffc800"/>
<rect x="1062.43" y="2097.62" width="63.83" height="51.88" fill="#ffd800"/>
<rect x="1125.65" y="2097.62" width="63.83" height="51.88" fill="#ffe800"/>
<rect x="1188.88" y="2097.62" width="63.83" height="51.88" fill="#e8ff10"/>
<rect x="1252.10" y="2097.62" width="63.83" height="51.88" fill="#c8ff30"/>
<rect x="1315.33" y="2097.62" width="63.83" height="51.88" fill="#b0ff48"/>
<rect x="1378.55" y="2097.62" width="63.83" height="51.88" fill="#a0ff58"/>
<rect x="1441.78" y="2097.62" width="63.83" height="51.88" fill="#70ff88"/>
<rect x="240.50" y="2148.90" width="63.83" height="51.88" fill="#ff5800"/>
<rect x="303.73" y="2148.90" width="63.83" height="51.88" fill="#ff7800"/>
<rect x="366.95" y="2148.90" width="63.83" height="51.88" fill="#ff7800"/>
<rect x="430.18" y="2148.90" width="63.83" height="51.88" fill="#ff7000"/>
<rect x="493.40" y="2148.90" width="63.83" height="51.88" fill="#ff7000"/>
<rect x="556.62" y="2148.90" width="63.83" height="51.88" fill="#ff7000"/>
<rect x="619.85" y="2148.90" width="63.83" height="51.88" fill="#ff7000"/>
<rect x="683.08" y="2148.90" width="63.83" height="51.88" fill="#ff7400"/>
<rect x="746.30" y="2148.90" width="63.83" height="51.88" fill="#ff7400"/>
<rect x="809.52" y="2148.90" width="63.83" height="51.88" fill="#ff7800"/>
<rect x="872.75" y="2148.90" width="63.83" height="51.88" fill="#ff6c00"/>
<rect x="935.98" y="2148.90" width="63.83" height="51.88" fill="#ff6c00"/>
<rect x="999.20" y="2148.90" width="63.83" height="51.88" fill="#ff6c00"/>
<rect x="1062.43" y="2148.90" width="63.83" height="51.88" fill="#ff6c00"/>
<rect x="1125.65" y="2148.90" width="63.83" height="51.88" fill="#ff6c00"/>
<rect x="1188.88" y="2148.90" width="63.83" height="51.88" fill="#ff6c00"/>
<rect x="1252.10" y="2148.90" width="63.83" height="51.88" fill="#ff7000"/>
<rect x="1315.33" y="2148.90" width="63.83" height="51.88" fill="#ff8800"/>
<rect x="1378.55" y="2148.90" width="63.83" height="51.88" fill="#ffa400"/>
<rect x="1441.78" y="2148.90" width="63.83" height="51.88" fill="#ffb800"/>
<rect x="240.50" y="2200.18" width="63.83" height="51.88" fill="#ff6400"/>
<rect x="303.73" y="2200.18" width="63.83" height="51.88" fill="#ff7800"/>
<rect x="366.95" y="2200.18" width="63.83" height="51.88" fill="#ff7000"/>
<rect x="430.18" y="2200.18" width="63.83" height="51.88" fill="#ff6c00"/>
<rect x="493.40" y="2200.18" width="63.83" height="51.88" fill="#ff6400"/>
<rect x="556.62" y="2200.18" width="63.83" height="51.88" fill="#ff5c00"/>
<rect x="619.85" y="2200.18" width="63.83" height="51.88" fill="#ff5800"/>
<rect x="683.08" y="2200.18" width="63.83" height="51.88" fill="#ff5400"/>
<rect x="746.30" y="2200.18" width="63.83" height="51.88" fill="#ff5000"/>
<rect x="809.52" y="2200.18" width="63.83" height="51.88" fill="#ff4400"/>
<rect x="872.75" y="2200.18" width="63.83" height="51.88" fill="#ff4000"/>
<rect x="935.98" y="2200.18" width="63.83" height="51.88" fill="#ff3000"/>
<rect x="999.20" y="2200.18" width="63.83" height="51.88" fill="#ff2800"/>
<rect x="1062.43" y="2200.18" width="63.83" height="51.88" fill="#ff1c00"/>
<rect x="1125.65" y="2200.18" width="63.83" height="51.88" fill="#ff0000"/>
<rect x="1188.88" y="2200.18" width="63.83" height="51.88" fill="#f00000"/>
<rect x="1252.10" y="2200.18" width="63.83" height="51.88" fill="#c80000"/>
<rect x="1315.33" y="2200.18" width="63.83" height="51.88" fill="#b00000"/>
<rect x="1378.55" y="2200.18" width="63.83" height="51.88" fill="#800000"/>
<rect x="1441.78" y="2200.18" width="63.83" height="51.88" fill="#680000"/>
<rect x="240.50" y="2251.45" width="63.83" height="51.88" fill="#20d8ff"/>
<rect x="303.73" y="2251.45" width="63.83" height="51.88" fill="#14a8ff"/>
<rect x="366.95" y="2251.45" width="63.83" height="51.88" fill="#18b0ff"/>
<rect x="430.18" y="2251.45" width="63.83" height="51.88" fill="#18c0ff"/>
<rect x="493.40" y="2251.45" width="63.83" height="51.88" fill="#18b8ff"/>
<rect x="556.62" y="2251.45" width="63.83" height="51.88" fill="#20d8ff"/>
<rect x="619.85" y="2251.45" width="63.83" height="51.88" fill="#28f0e8"/>
<rect x="683.08" y="2251.45" width="63.83" height="51.88" fill="#28ffe0"/>
<rect x="746.30" y="2251.45" width="63.83" height="51.88" fill="#28ffd8"/>
<rect x="809.52" y="2251.45" width="63.83" height="51.88" fill="#30ffd0"/>
<rect x="872.75" y="2251.45" width="63.83" height="51.88" fill="#30ffd0"/>
<rect x="935.98" y="2251.45" width="63.83" height="51.88" fill="#30ffc8"/>
<rect x="999.20" y="2251.45" width="63.83" height="51.88" fill="#30ffd0"/>
<rect x="1062.43" y="2251.45" width="63.83" height="51.88" fill="#28ffd8"/>
<rect x="1125.65" y="2251.45" width="63.83" height="51.88" fill="#28ffd8"/>
<rect x="1188.88" y="2251.45" width="63.83" height="51.88" fill="#20f0f0"/>
<rect x="1252.10" y="2251.45" width="63.83" height="51.88" fill="#18d0ff"/>
<rect x="1315.33" y="2251.45" width="63.83" height="51.88" fill="#18b8ff"/>
<rect x="1378.55" y="2251.45" width="63.83" height="51.88" fill="#18b8ff"/>
<rect x="1441.78" y="2251.45" width="63.83" height="51.88" fill="#0c58ff"/>
<rect x="619.85" y="2302.72" width="63.83" height="51.88" fill="#000090"/>
<rect x="683.08" y="2302.72" width="63.83" height="51.88" fill="#0000ff"/>
<rect x="746.30" y="2302.72" width="63.83" height="51.88" fill="#0000ff"/>
<rect x="809.52" y="2302.72" width="63.83" height="51.88" fill="#0000f0"/>
<rect x="872.75" y="2302.72" width="63.83" height="51.88" fill="#0000e8"/>
<rect x="935.98" y="2302.72" width="63.83" height="51.88" fill="#0000d8"/>
<rect x="1125.65" y="2302.72" width="63.83" height="51.88" fill="#0000ff"/>
</g>
<rect x="240.50" y="1328.50" width="1264.50" height="1025.50" fill="none" stroke="#1a1a1a" stroke-width="3.0"/>
<line x1="483.18" y1="2354.00" x2="483.18" y2="2370.00" stroke="#1a1a1a" stroke-width="3.0"/>
<text x="483.18" y="2424.00" font-family="'DejaVu Sans', 'Liberation Sans', sans-serif" font-size="48.5" text-anchor="middle" fill="#111" >20</text>
<line x1="738.64" y1="2354.00" x2="738.64" y2="2370.00" stroke="#1a1a1a" stroke-width="3.0"/>
<text x="738.64" y="2424.00" font-family="'DejaVu Sans', 'Liberation Sans', sans-serif" font-size="48.5" text-anchor="middle" fill="#111" >40</text>
<line x1="994.09" y1="2354.00" x2="994.09" y2="2370.00" stroke="#1a1a1a" stroke-width="3.0"/>
<text x="994.09" y="2424.00" font-family="'DejaVu Sans', 'Liberation Sans', sans-serif" font-size="48.5" text-anchor="middle" fill="#111" >60</text>
<line x1="1249.55" y1="2354.00" x2="1249.55" y2="2370.00" stroke="#1a1a1a" stroke-width="3.0"/>
<text x="1249.55" y="2424.00" font-family="'DejaVu Sans', 'Liberation Sans', sans-serif" font-size="48.5" text-anchor="middle" fill="#111" >80</text>
<line x1="1505.00" y1="2354.00" x2="1505.00" y2="2370.00" stroke="#1a1a1a" stroke-width="3.0"/>
<text x="1505.00" y="2424.00" font-family="'DejaVu Sans', 'Liberation Sans', sans-serif" font-size="48.5" text-anchor="middle" fill="#111" >100</text>
<line x1="224.50" y1="2335.25" x2="240.50" y2="2335.25" stroke="#1a1a1a" stroke-width="3.0"/>
<text x="208.50" y="2354.25" font-family="'DejaVu Sans', 'Liberation Sans', sans-serif" font-size="48.5" text-anchor="end" fill="#111" >−5</text>
<line x1="224.50" y1="2173.00" x2="240.50" y2="2173.00" stroke="#1a1a1a" stroke-width="3.0"/>
<text x="208.50" y="2192.00" font-family="'DejaVu Sans', 'Liberation Sans', sans-serif" font-size="48.5" text-anchor="end" fill="#111" >0</text>
<line x1="224.50" y1="2010.75" x2="240.50" y2="2010.75" stroke="#1a1a1a" stroke-width="3.0"/>
<text x="208.50" y="2029.75" font-family="'DejaVu Sans', 'Liberation Sans', sans-serif" font-size="48.5" text-anchor="end" fill="#111" >5</text>
<line x1="224.50" y1="1848.50" x2="240.50" y2="1848.50" stroke="#1a1a1a" stroke-width="3.0"/>
<text x="208.50" y="1867.50" font-family="'DejaVu Sans', 'Liberation Sans', sans-serif" font-size="48.5" text-anchor="end" fill="#111" >10</text>
<line x1="224.50" y1="1686.25" x2="240.50" y2="1686.25" stroke="#1a1a1a" stroke-width="3.0"/>
<text x="208.50" y="1705.25" font-family="'DejaVu Sans', 'Liberation Sans', sans-serif" font-size="48.5" text-anchor="end" fill="#111" >15</text>
<line x1="224.50" y1="1524.00" x2="240.50" y2="1524.00" stroke="#1a1a1a" stroke-width="3.0"/>
<text x="208.50" y="1543.00" font-family="'DejaVu Sans', 'Liberation Sans', sans-serif" font-size="48.5" text-anchor="end" fill="#111" >20</text>
<line x1="224.50" y1="1361.75" x2="240.50" y2="1361.75" stroke="#1a1a1a" stroke-width="3.0"/>
<text x="208.50" y="1380.75" font-family="'DejaVu Sans', 'Liberation Sans', sans-serif" font-size="48.5" text-anchor="end" fill="#111" >25</text>
<text transform="translate(104.30,1843.00) rotate(-90)" font-family="'DejaVu Sans', 'Liberation Sans', sans-serif" font-size="70.5" letter-spacing="0.6" text-anchor="middle" fill="#111" >C3S SST</text>
<text x="872.75" y="2506.00" font-family="'DejaVu Sans', 'Liberation Sans', sans-serif" font-size="70.5" letter-spacing="0.6" text-anchor="middle" fill="#111" >C3S SIC</text>
<rect x="1583.20" y="1328.50" width="51.30" height="1025.50" fill="url(#gB)"/>
<rect x="1583.20" y="1328.50" width="51.30" height="1025.50" fill="none" stroke="#1a1a1a" stroke-width="3.0"/>
<line x1="1634.50" y1="2354.00" x2="1650.50" y2="2354.00" stroke="#1a1a1a" stroke-width="3.0"/>
<text x="1666.50" y="2373.50" font-family="'DejaVu Sans', 'Liberation Sans', sans-serif" font-size="48.5" fill="#111" >10<tspan dy="-19.5" font-size="33.9">0</tspan></text>
<line x1="1634.50" y1="2099.20" x2="1650.50" y2="2099.20" stroke="#1a1a1a" stroke-width="3.0"/>
<text x="1666.50" y="2118.70" font-family="'DejaVu Sans', 'Liberation Sans', sans-serif" font-size="48.5" fill="#111" >10<tspan dy="-19.5" font-size="33.9">2</tspan></text>
<line x1="1634.50" y1="1844.40" x2="1650.50" y2="1844.40" stroke="#1a1a1a" stroke-width="3.0"/>
<text x="1666.50" y="1863.90" font-family="'DejaVu Sans', 'Liberation Sans', sans-serif" font-size="48.5" fill="#111" >10<tspan dy="-19.5" font-size="33.9">4</tspan></text>
<line x1="1634.50" y1="1589.60" x2="1650.50" y2="1589.60" stroke="#1a1a1a" stroke-width="3.0"/>
<text x="1666.50" y="1609.10" font-family="'DejaVu Sans', 'Liberation Sans', sans-serif" font-size="48.5" fill="#111" >10<tspan dy="-19.5" font-size="33.9">6</tspan></text>
<line x1="1634.50" y1="1334.80" x2="1650.50" y2="1334.80" stroke="#1a1a1a" stroke-width="3.0"/>
<text x="1666.50" y="1354.30" font-family="'DejaVu Sans', 'Liberation Sans', sans-serif" font-size="48.5" fill="#111" >10<tspan dy="-19.5" font-size="33.9">8</tspan></text>
<text transform="translate(1821.40,1843.15) rotate(-90)" font-family="'DejaVu Sans', 'Liberation Sans', sans-serif" font-size="70.5" letter-spacing="0.6" text-anchor="middle" fill="#111" >Bin Density</text>
<text x="1364.80" y="1427.50" font-family="'Liberation Sans', 'DejaVu Sans', sans-serif" font-size="81" fill="#000" stroke="#fff" stroke-width="1.3">(<tspan font-size="74.5" dx="2">b</tspan><tspan dx="2">)</tspan></text>
<g shape-rendering="crispEdges">
<rect x="243.20" y="2600.50" width="63.81" height="51.94" fill="#0000a0"/>
<rect x="306.41" y="2600.50" width="63.81" height="51.94" fill="#000090"/>
<rect x="369.63" y="2600.50" width="63.81" height="51.94" fill="#000060"/>
<rect x="432.84" y="2600.50" width="63.81" height="51.94" fill="#000060"/>
<rect x="496.06" y="2600.50" width="63.81" height="51.94" fill="#000090"/>
<rect x="559.27" y="2600.50" width="63.81" height="51.94" fill="#0000a8"/>
<rect x="685.70" y="2600.50" width="63.81" height="51.94" fill="#0000d8"/>
<rect x="748.92" y="2600.50" width="63.81" height="51.94" fill="#000060"/>
<rect x="812.13" y="2600.50" width="63.81" height="51.94" fill="#000060"/>
<rect x="875.35" y="2600.50" width="63.81" height="51.94" fill="#000060"/>
<rect x="1064.99" y="2600.50" width="63.81" height="51.94" fill="#000060"/>
<rect x="1128.21" y="2600.50" width="63.81" height="51.94" fill="#0000a8"/>
<rect x="243.20" y="2651.84" width="63.81" height="51.94" fill="#0000f0"/>
<rect x="306.41" y="2651.84" width="63.81" height="51.94" fill="#0000f0"/>
<rect x="369.63" y="2651.84" width="63.81" height="51.94" fill="#0000f0"/>
<rect x="432.84" y="2651.84" width="63.81" height="51.94" fill="#0000e8"/>
<rect x="496.06" y="2651.84" width="63.81" height="51.94" fill="#0000f8"/>
<rect x="559.27" y="2651.84" width="63.81" height="51.94" fill="#0000f8"/>
<rect x="622.49" y="2651.84" width="63.81" height="51.94" fill="#0000b8"/>
<rect x="685.70" y="2651.84" width="63.81" height="51.94" fill="#0000d8"/>
<rect x="748.92" y="2651.84" width="63.81" height="51.94" fill="#0000f0"/>
<rect x="812.13" y="2651.84" width="63.81" height="51.94" fill="#0000a0"/>
<rect x="875.35" y="2651.84" width="63.81" height="51.94" fill="#000098"/>
<rect x="938.57" y="2651.84" width="63.81" height="51.94" fill="#000098"/>
<rect x="1064.99" y="2651.84" width="63.81" height="51.94" fill="#0000f8"/>
<rect x="1128.21" y="2651.84" width="63.81" height="51.94" fill="#0000a8"/>
<rect x="243.20" y="2703.18" width="63.81" height="51.94" fill="#0000f8"/>
<rect x="306.41" y="2703.18" width="63.81" height="51.94" fill="#0000f8"/>
<rect x="369.63" y="2703.18" width="63.81" height="51.94" fill="#0000f8"/>
<rect x="432.84" y="2703.18" width="63.81" height="51.94" fill="#0000f8"/>
<rect x="496.06" y="2703.18" width="63.81" height="51.94" fill="#0000f8"/>
<rect x="559.27" y="2703.18" width="63.81" height="51.94" fill="#0000f8"/>
<rect x="622.49" y="2703.18" width="63.81" height="51.94" fill="#0000f8"/>
<rect x="685.70" y="2703.18" width="63.81" height="51.94" fill="#0000f8"/>
<rect x="748.92" y="2703.18" width="63.81" height="51.94" fill="#0000f8"/>
<rect x="812.13" y="2703.18" width="63.81" height="51.94" fill="#0000f8"/>
<rect x="875.35" y="2703.18" width="63.81" height="51.94" fill="#0000f8"/>
<rect x="938.57" y="2703.18" width="63.81" height="51.94" fill="#0000f8"/>
<rect x="1001.78" y="2703.18" width="63.81" height="51.94" fill="#0000e0"/>
<rect x="1064.99" y="2703.18" width="63.81" height="51.94" fill="#0000f8"/>
<rect x="1128.21" y="2703.18" width="63.81" height="51.94" fill="#0000a8"/>
<rect x="1191.42" y="2703.18" width="63.81" height="51.94" fill="#0000d8"/>
<rect x="1254.64" y="2703.18" width="63.81" height="51.94" fill="#0000f0"/>
<rect x="243.20" y="2754.52" width="63.81" height="51.94" fill="#0020f8"/>
<rect x="306.41" y="2754.52" width="63.81" height="51.94" fill="#0020f8"/>
<rect x="369.63" y="2754.52" width="63.81" height="51.94" fill="#0000f0"/>
<rect x="432.84" y="2754.52" width="63.81" height="51.94" fill="#0000f0"/>
<rect x="496.06" y="2754.52" width="63.81" height="51.94" fill="#0000f0"/>
<rect x="559.27" y="2754.52" width="63.81" height="51.94" fill="#0018ff"/>
<rect x="622.49" y="2754.52" width="63.81" height="51.94" fill="#0000f0"/>
<rect x="685.70" y="2754.52" width="63.81" height="51.94" fill="#0010f8"/>
<rect x="748.92" y="2754.52" width="63.81" height="51.94" fill="#0000f0"/>
<rect x="812.13" y="2754.52" width="63.81" height="51.94" fill="#0000f0"/>
<rect x="875.35" y="2754.52" width="63.81" height="51.94" fill="#0000f8"/>
<rect x="938.57" y="2754.52" width="63.81" height="51.94" fill="#0000f8"/>
<rect x="1001.78" y="2754.52" width="63.81" height="51.94" fill="#0000f8"/>
<rect x="1064.99" y="2754.52" width="63.81" height="51.94" fill="#0000f8"/>
<rect x="1128.21" y="2754.52" width="63.81" height="51.94" fill="#0000f8"/>
<rect x="1191.42" y="2754.52" width="63.81" height="51.94" fill="#0000f8"/>
<rect x="1254.64" y="2754.52" width="63.81" height="51.94" fill="#0000c0"/>
<rect x="243.20" y="2805.86" width="63.81" height="51.94" fill="#0030ff"/>
<rect x="306.41" y="2805.86" width="63.81" height="51.94" fill="#0030ff"/>
<rect x="369.63" y="2805.86" width="63.81" height="51.94" fill="#0000f0"/>
<rect x="432.84" y="2805.86" width="63.81" height="51.94" fill="#0028ff"/>
<rect x="496.06" y="2805.86" width="63.81" height="51.94" fill="#0000f0"/>
<rect x="559.27" y="2805.86" width="63.81" height="51.94" fill="#0000f0"/>
<rect x="622.49" y="2805.86" width="63.81" height="51.94" fill="#0000f0"/>
<rect x="685.70" y="2805.86" width="63.81" height="51.94" fill="#0010f8"/>
<rect x="748.92" y="2805.86" width="63.81" height="51.94" fill="#0008f8"/>
<rect x="812.13" y="2805.86" width="63.81" height="51.94" fill="#0000f8"/>
<rect x="875.35" y="2805.86" width="63.81" height="51.94" fill="#0000f8"/>
<rect x="938.57" y="2805.86" width="63.81" height="51.94" fill="#0000f8"/>
<rect x="1001.78" y="2805.86" width="63.81" height="51.94" fill="#0000f8"/>
<rect x="1064.99" y="2805.86" width="63.81" height="51.94" fill="#0000e8"/>
<rect x="1128.21" y="2805.86" width="63.81" height="51.94" fill="#0000f8"/>
<rect x="1191.42" y="2805.86" width="63.81" height="51.94" fill="#0000f8"/>
<rect x="1254.64" y="2805.86" width="63.81" height="51.94" fill="#0000f0"/>
<rect x="243.20" y="2857.20" width="63.81" height="51.94" fill="#0c68ff"/>
<rect x="306.41" y="2857.20" width="63.81" height="51.94" fill="#0860ff"/>
<rect x="369.63" y="2857.20" width="63.81" height="51.94" fill="#0858ff"/>
<rect x="432.84" y="2857.20" width="63.81" height="51.94" fill="#0858ff"/>
<rect x="496.06" y="2857.20" width="63.81" height="51.94" fill="#0858ff"/>
<rect x="559.27" y="2857.20" width="63.81" height="51.94" fill="#0850ff"/>
<rect x="622.49" y="2857.20" width="63.81" height="51.94" fill="#0848ff"/>
<rect x="685.70" y="2857.20" width="63.81" height="51.94" fill="#0858ff"/>
<rect x="748.92" y="2857.20" width="63.81" height="51.94" fill="#0840ff"/>
<rect x="812.13" y="2857.20" width="63.81" height="51.94" fill="#0000f8"/>
<rect x="875.35" y="2857.20" width="63.81" height="51.94" fill="#0840ff"/>
<rect x="938.57" y="2857.20" width="63.81" height="51.94" fill="#0020ff"/>
<rect x="1001.78" y="2857.20" width="63.81" height="51.94" fill="#0000f8"/>
<rect x="1064.99" y="2857.20" width="63.81" height="51.94" fill="#0000f8"/>
<rect x="1128.21" y="2857.20" width="63.81" height="51.94" fill="#0000f8"/>
<rect x="1191.42" y="2857.20" width="63.81" height="51.94" fill="#0000f8"/>
<rect x="1254.64" y="2857.20" width="63.81" height="51.94" fill="#0000c8"/>
<rect x="243.20" y="2908.54" width="63.81" height="51.94" fill="#1488ff"/>
<rect x="306.41" y="2908.54" width="63.81" height="51.94" fill="#1078ff"/>
<rect x="369.63" y="2908.54" width="63.81" height="51.94" fill="#0c68ff"/>
<rect x="432.84" y="2908.54" width="63.81" height="51.94" fill="#1070ff"/>
<rect x="496.06" y="2908.54" width="63.81" height="51.94" fill="#0858ff"/>
<rect x="559.27" y="2908.54" width="63.81" height="51.94" fill="#0850ff"/>
<rect x="622.49" y="2908.54" width="63.81" height="51.94" fill="#0848ff"/>
<rect x="685.70" y="2908.54" width="63.81" height="51.94" fill="#0c60ff"/>
<rect x="748.92" y="2908.54" width="63.81" height="51.94" fill="#0c60ff"/>
<rect x="812.13" y="2908.54" width="63.81" height="51.94" fill="#0850ff"/>
<rect x="875.35" y="2908.54" width="63.81" height="51.94" fill="#0c58ff"/>
<rect x="938.57" y="2908.54" width="63.81" height="51.94" fill="#0848ff"/>
<rect x="1001.78" y="2908.54" width="63.81" height="51.94" fill="#0020ff"/>
<rect x="1064.99" y="2908.54" width="63.81" height="51.94" fill="#0020ff"/>
<rect x="1128.21" y="2908.54" width="63.81" height="51.94" fill="#0000f8"/>
<rect x="1191.42" y="2908.54" width="63.81" height="51.94" fill="#0000f8"/>
<rect x="1254.64" y="2908.54" width="63.81" height="51.94" fill="#0000f8"/>
<rect x="1317.86" y="2908.54" width="63.81" height="51.94" fill="#0000b0"/>
<rect x="1381.07" y="2908.54" width="63.81" height="51.94" fill="#00009c"/>
<rect x="243.20" y="2959.88" width="63.81" height="51.94" fill="#20e0ff"/>
<rect x="306.41" y="2959.88" width="63.81" height="51.94" fill="#18c0ff"/>
<rect x="369.63" y="2959.88" width="63.81" height="51.94" fill="#18b8ff"/>
<rect x="432.84" y="2959.88" width="63.81" height="51.94" fill="#18c0ff"/>
<rect x="496.06" y="2959.88" width="63.81" height="51.94" fill="#18b0ff"/>
<rect x="559.27" y="2959.88" width="63.81" height="51.94" fill="#18b0ff"/>
<rect x="622.49" y="2959.88" width="63.81" height="51.94" fill="#1498ff"/>
<rect x="685.70" y="2959.88" width="63.81" height="51.94" fill="#1490ff"/>
<rect x="748.92" y="2959.88" width="63.81" height="51.94" fill="#18a0ff"/>
<rect x="812.13" y="2959.88" width="63.81" height="51.94" fill="#1478ff"/>
<rect x="875.35" y="2959.88" width="63.81" height="51.94" fill="#1070ff"/>
<rect x="938.57" y="2959.88" width="63.81" height="51.94" fill="#0c68ff"/>
<rect x="1001.78" y="2959.88" width="63.81" height="51.94" fill="#0c60ff"/>
<rect x="1064.99" y="2959.88" width="63.81" height="51.94" fill="#0c60ff"/>
<rect x="1128.21" y="2959.88" width="63.81" height="51.94" fill="#0030ff"/>
<rect x="1191.42" y="2959.88" width="63.81" height="51.94" fill="#0000f8"/>
<rect x="1254.64" y="2959.88" width="63.81" height="51.94" fill="#0000f8"/>
<rect x="1317.86" y="2959.88" width="63.81" height="51.94" fill="#000058"/>
<rect x="1381.07" y="2959.88" width="63.81" height="51.94" fill="#000058"/>
<rect x="1444.29" y="2959.88" width="63.81" height="51.94" fill="#000058"/>
<rect x="243.20" y="3011.22" width="63.81" height="51.94" fill="#30ffd0"/>
<rect x="306.41" y="3011.22" width="63.81" height="51.94" fill="#28ffe0"/>
<rect x="369.63" y="3011.22" width="63.81" height="51.94" fill="#28ffe0"/>
<rect x="432.84" y="3011.22" width="63.81" height="51.94" fill="#28ffe0"/>
<rect x="496.06" y="3011.22" width="63.81" height="51.94" fill="#28ffe0"/>
<rect x="559.27" y="3011.22" width="63.81" height="51.94" fill="#28ffe0"/>
<rect x="622.49" y="3011.22" width="63.81" height="51.94" fill="#20f0f0"/>
<rect x="685.70" y="3011.22" width="63.81" height="51.94" fill="#20e0ff"/>
<rect x="748.92" y="3011.22" width="63.81" height="51.94" fill="#20d8ff"/>
<rect x="812.13" y="3011.22" width="63.81" height="51.94" fill="#18c8ff"/>
<rect x="875.35" y="3011.22" width="63.81" height="51.94" fill="#18b0ff"/>
<rect x="938.57" y="3011.22" width="63.81" height="51.94" fill="#1498ff"/>
<rect x="1001.78" y="3011.22" width="63.81" height="51.94" fill="#1490ff"/>
<rect x="1064.99" y="3011.22" width="63.81" height="51.94" fill="#1070ff"/>
<rect x="1128.21" y="3011.22" width="63.81" height="51.94" fill="#0848ff"/>
<rect x="1191.42" y="3011.22" width="63.81" height="51.94" fill="#0848ff"/>
<rect x="1254.64" y="3011.22" width="63.81" height="51.94" fill="#0000f8"/>
<rect x="1317.86" y="3011.22" width="63.81" height="51.94" fill="#0000f8"/>
<rect x="1381.07" y="3011.22" width="63.81" height="51.94" fill="#0000f8"/>
<rect x="1444.29" y="3011.22" width="63.81" height="51.94" fill="#0000f8"/>
<rect x="243.20" y="3062.56" width="63.81" height="51.94" fill="#48ffa8"/>
<rect x="306.41" y="3062.56" width="63.81" height="51.94" fill="#38ffc0"/>
<rect x="369.63" y="3062.56" width="63.81" height="51.94" fill="#38ffc0"/>
<rect x="432.84" y="3062.56" width="63.81" height="51.94" fill="#40ffb8"/>
<rect x="496.06" y="3062.56" width="63.81" height="51.94" fill="#40ffb8"/>
<rect x="559.27" y="3062.56" width="63.81" height="51.94" fill="#40ffb8"/>
<rect x="622.49" y="3062.56" width="63.81" height="51.94" fill="#38ffc0"/>
<rect x="685.70" y="3062.56" width="63.81" height="51.94" fill="#38ffc0"/>
<rect x="748.92" y="3062.56" width="63.81" height="51.94" fill="#30ffd0"/>
<rect x="812.13" y="3062.56" width="63.81" height="51.94" fill="#28ffe0"/>
<rect x="875.35" y="3062.56" width="63.81" height="51.94" fill="#20e0ff"/>
<rect x="938.57" y="3062.56" width="63.81" height="51.94" fill="#20e0ff"/>
<rect x="1001.78" y="3062.56" width="63.81" height="51.94" fill="#18c0ff"/>
<rect x="1064.99" y="3062.56" width="63.81" height="51.94" fill="#1498ff"/>
<rect x="1128.21" y="3062.56" width="63.81" height="51.94" fill="#18a8ff"/>
<rect x="1191.42" y="3062.56" width="63.81" height="51.94" fill="#1080ff"/>
<rect x="1254.64" y="3062.56" width="63.81" height="51.94" fill="#0c58ff"/>
<rect x="1317.86" y="3062.56" width="63.81" height="51.94" fill="#0000f8"/>
<rect x="1381.07" y="3062.56" width="63.81" height="51.94" fill="#0000f8"/>
<rect x="1444.29" y="3062.56" width="63.81" height="51.94" fill="#0000f8"/>
<rect x="243.20" y="3113.90" width="63.81" height="51.94" fill="#60ff90"/>
<rect x="306.41" y="3113.90" width="63.81" height="51.94" fill="#60ff90"/>
<rect x="369.63" y="3113.90" width="63.81" height="51.94" fill="#60ff90"/>
<rect x="432.84" y="3113.90" width="63.81" height="51.94" fill="#60ff90"/>
<rect x="496.06" y="3113.90" width="63.81" height="51.94" fill="#60ff90"/>
<rect x="559.27" y="3113.90" width="63.81" height="51.94" fill="#60ff90"/>
<rect x="622.49" y="3113.90" width="63.81" height="51.94" fill="#58ff98"/>
<rect x="685.70" y="3113.90" width="63.81" height="51.94" fill="#50ffa0"/>
<rect x="748.92" y="3113.90" width="63.81" height="51.94" fill="#48ffb0"/>
<rect x="812.13" y="3113.90" width="63.81" height="51.94" fill="#38ffc0"/>
<rect x="875.35" y="3113.90" width="63.81" height="51.94" fill="#38ffc8"/>
<rect x="938.57" y="3113.90" width="63.81" height="51.94" fill="#28ffe0"/>
<rect x="1001.78" y="3113.90" width="63.81" height="51.94" fill="#20e8f8"/>
<rect x="1064.99" y="3113.90" width="63.81" height="51.94" fill="#18c8ff"/>
<rect x="1128.21" y="3113.90" width="63.81" height="51.94" fill="#14a0ff"/>
<rect x="1191.42" y="3113.90" width="63.81" height="51.94" fill="#1080ff"/>
<rect x="1254.64" y="3113.90" width="63.81" height="51.94" fill="#0c68ff"/>
<rect x="1317.86" y="3113.90" width="63.81" height="51.94" fill="#0830ff"/>
<rect x="1381.07" y="3113.90" width="63.81" height="51.94" fill="#0000f8"/>
<rect x="1444.29" y="3113.90" width="63.81" height="51.94" fill="#0000a0"/>
<rect x="243.20" y="3165.24" width="63.81" height="51.94" fill="#88ff70"/>
<rect x="306.41" y="3165.24" width="63.81" height="51.94" fill="#80ff78"/>
<rect x="369.63" y="3165.24" width="63.81" height="51.94" fill="#78ff80"/>
<rect x="432.84" y="3165.24" width="63.81" height="51.94" fill="#80ff78"/>
<rect x="496.06" y="3165.24" width="63.81" height="51.94" fill="#80ff78"/>
<rect x="559.27" y="3165.24" width="63.81" height="51.94" fill="#80ff78"/>
<rect x="622.49" y="3165.24" width="63.81" height="51.94" fill="#78ff80"/>
<rect x="685.70" y="3165.24" width="63.81" height="51.94" fill="#70ff88"/>
<rect x="748.92" y="3165.24" width="63.81" height="51.94" fill="#68ff88"/>
<rect x="812.13" y="3165.24" width="63.81" height="51.94" fill="#58ff98"/>
<rect x="875.35" y="3165.24" width="63.81" height="51.94" fill="#48ffb0"/>
<rect x="938.57" y="3165.24" width="63.81" height="51.94" fill="#38ffc0"/>
<rect x="1001.78" y="3165.24" width="63.81" height="51.94" fill="#30ffd0"/>
<rect x="1064.99" y="3165.24" width="63.81" height="51.94" fill="#20e8f8"/>
<rect x="1128.21" y="3165.24" width="63.81" height="51.94" fill="#18c8ff"/>
<rect x="1191.42" y="3165.24" width="63.81" height="51.94" fill="#18b0ff"/>
<rect x="1254.64" y="3165.24" width="63.81" height="51.94" fill="#1070ff"/>
<rect x="1317.86" y="3165.24" width="63.81" height="51.94" fill="#0838ff"/>
<rect x="1381.07" y="3165.24" width="63.81" height="51.94" fill="#0000f8"/>
<rect x="1444.29" y="3165.24" width="63.81" height="51.94" fill="#0000a0"/>
<rect x="243.20" y="3216.58" width="63.81" height="51.94" fill="#a8ff50"/>
<rect x="306.41" y="3216.58" width="63.81" height="51.94" fill="#98ff60"/>
<rect x="369.63" y="3216.58" width="63.81" height="51.94" fill="#98ff60"/>
<rect x="432.84" y="3216.58" width="63.81" height="51.94" fill="#a8ff50"/>
<rect x="496.06" y="3216.58" width="63.81" height="51.94" fill="#a8ff50"/>
<rect x="559.27" y="3216.58" width="63.81" height="51.94" fill="#a0ff58"/>
<rect x="622.49" y="3216.58" width="63.81" height="51.94" fill="#98ff60"/>
<rect x="685.70" y="3216.58" width="63.81" height="51.94" fill="#90ff68"/>
<rect x="748.92" y="3216.58" width="63.81" height="51.94" fill="#88ff70"/>
<rect x="812.13" y="3216.58" width="63.81" height="51.94" fill="#70ff88"/>
<rect x="875.35" y="3216.58" width="63.81" height="51.94" fill="#58ff98"/>
<rect x="938.57" y="3216.58" width="63.81" height="51.94" fill="#48ffb0"/>
<rect x="1001.78" y="3216.58" width="63.81" height="51.94" fill="#40ffb8"/>
<rect x="1064.99" y="3216.58" width="63.81" height="51.94" fill="#30ffd0"/>
<rect x="1128.21" y="3216.58" width="63.81" height="51.94" fill="#20f0f0"/>
<rect x="1191.42" y="3216.58" width="63.81" height="51.94" fill="#18c8ff"/>
<rect x="1254.64" y="3216.58" width="63.81" height="51.94" fill="#1498ff"/>
<rect x="1317.86" y="3216.58" width="63.81" height="51.94" fill="#1080ff"/>
<rect x="1381.07" y="3216.58" width="63.81" height="51.94" fill="#0838ff"/>
<rect x="1444.29" y="3216.58" width="63.81" height="51.94" fill="#0008f8"/>
<rect x="243.20" y="3267.92" width="63.81" height="51.94" fill="#c8ff30"/>
<rect x="306.41" y="3267.92" width="63.81" height="51.94" fill="#c0ff38"/>
<rect x="369.63" y="3267.92" width="63.81" height="51.94" fill="#c0ff38"/>
<rect x="432.84" y="3267.92" width="63.81" height="51.94" fill="#c8ff30"/>
<rect x="496.06" y="3267.92" width="63.81" height="51.94" fill="#c8ff30"/>
<rect x="559.27" y="3267.92" width="63.81" height="51.94" fill="#c0ff38"/>
<rect x="622.49" y="3267.92" width="63.81" height="51.94" fill="#b8ff40"/>
<rect x="685.70" y="3267.92" width="63.81" height="51.94" fill="#b0ff48"/>
<rect x="748.92" y="3267.92" width="63.81" height="51.94" fill="#a8ff50"/>
<rect x="812.13" y="3267.92" width="63.81" height="51.94" fill="#90ff68"/>
<rect x="875.35" y="3267.92" width="63.81" height="51.94" fill="#70ff88"/>
<rect x="938.57" y="3267.92" width="63.81" height="51.94" fill="#68ff88"/>
<rect x="1001.78" y="3267.92" width="63.81" height="51.94" fill="#58ff98"/>
<rect x="1064.99" y="3267.92" width="63.81" height="51.94" fill="#50ffa0"/>
<rect x="1128.21" y="3267.92" width="63.81" height="51.94" fill="#40ffb8"/>
<rect x="1191.42" y="3267.92" width="63.81" height="51.94" fill="#30ffd0"/>
<rect x="1254.64" y="3267.92" width="63.81" height="51.94" fill="#20d8ff"/>
<rect x="1317.86" y="3267.92" width="63.81" height="51.94" fill="#1490ff"/>
<rect x="1381.07" y="3267.92" width="63.81" height="51.94" fill="#1070ff"/>
<rect x="1444.29" y="3267.92" width="63.81" height="51.94" fill="#1070ff"/>
<rect x="243.20" y="3319.26" width="63.81" height="51.94" fill="#f0ff08"/>
<rect x="306.41" y="3319.26" width="63.81" height="51.94" fill="#e0ff18"/>
<rect x="369.63" y="3319.26" width="63.81" height="51.94" fill="#e0ff18"/>
<rect x="432.84" y="3319.26" width="63.81" height="51.94" fill="#f0ff08"/>
<rect x="496.06" y="3319.26" width="63.81" height="51.94" fill="#f0ff08"/>
<rect x="559.27" y="3319.26" width="63.81" height="51.94" fill="#e8ff10"/>
<rect x="622.49" y="3319.26" width="63.81" height="51.94" fill="#e0ff18"/>
<rect x="685.70" y="3319.26" width="63.81" height="51.94" fill="#d8ff20"/>
<rect x="748.92" y="3319.26" width="63.81" height="51.94" fill="#d0ff28"/>
<rect x="812.13" y="3319.26" width="63.81" height="51.94" fill="#b0ff48"/>
<rect x="875.35" y="3319.26" width="63.81" height="51.94" fill="#98ff60"/>
<rect x="938.57" y="3319.26" width="63.81" height="51.94" fill="#80ff78"/>
<rect x="1001.78" y="3319.26" width="63.81" height="51.94" fill="#70ff88"/>
<rect x="1064.99" y="3319.26" width="63.81" height="51.94" fill="#68ff88"/>
<rect x="1128.21" y="3319.26" width="63.81" height="51.94" fill="#60ff90"/>
<rect x="1191.42" y="3319.26" width="63.81" height="51.94" fill="#48ffb0"/>
<rect x="1254.64" y="3319.26" width="63.81" height="51.94" fill="#30ffd0"/>
<rect x="1317.86" y="3319.26" width="63.81" height="51.94" fill="#18c8ff"/>
<rect x="1381.07" y="3319.26" width="63.81" height="51.94" fill="#1498ff"/>
<rect x="1444.29" y="3319.26" width="63.81" height="51.94" fill="#1488ff"/>
<rect x="243.20" y="3370.60" width="63.81" height="51.94" fill="#ffd800"/>
<rect x="306.41" y="3370.60" width="63.81" height="51.94" fill="#f8f800"/>
<rect x="369.63" y="3370.60" width="63.81" height="51.94" fill="#f8f800"/>
<rect x="432.84" y="3370.60" width="63.81" height="51.94" fill="#ffe000"/>
<rect x="496.06" y="3370.60" width="63.81" height="51.94" fill="#ffe000"/>
<rect x="559.27" y="3370.60" width="63.81" height="51.94" fill="#ffe000"/>
<rect x="622.49" y="3370.60" width="63.81" height="51.94" fill="#ffe800"/>
<rect x="685.70" y="3370.60" width="63.81" height="51.94" fill="#fff000"/>
<rect x="748.92" y="3370.60" width="63.81" height="51.94" fill="#f0ff08"/>
<rect x="812.13" y="3370.60" width="63.81" height="51.94" fill="#e0ff18"/>
<rect x="875.35" y="3370.60" width="63.81" height="51.94" fill="#c8ff30"/>
<rect x="938.57" y="3370.60" width="63.81" height="51.94" fill="#b0ff48"/>
<rect x="1001.78" y="3370.60" width="63.81" height="51.94" fill="#a0ff58"/>
<rect x="1064.99" y="3370.60" width="63.81" height="51.94" fill="#88ff70"/>
<rect x="1128.21" y="3370.60" width="63.81" height="51.94" fill="#78ff80"/>
<rect x="1191.42" y="3370.60" width="63.81" height="51.94" fill="#68ff88"/>
<rect x="1254.64" y="3370.60" width="63.81" height="51.94" fill="#50ffa0"/>
<rect x="1317.86" y="3370.60" width="63.81" height="51.94" fill="#30ffd0"/>
<rect x="1381.07" y="3370.60" width="63.81" height="51.94" fill="#18c0ff"/>
<rect x="1444.29" y="3370.60" width="63.81" height="51.94" fill="#14a0ff"/>
<rect x="243.20" y="3421.94" width="63.81" height="51.94" fill="#ffc800"/>
<rect x="306.41" y="3421.94" width="63.81" height="51.94" fill="#ffd800"/>
<rect x="369.63" y="3421.94" width="63.81" height="51.94" fill="#ffd800"/>
<rect x="432.84" y="3421.94" width="63.81" height="51.94" fill="#ffc000"/>
<rect x="496.06" y="3421.94" width="63.81" height="51.94" fill="#ffc000"/>
<rect x="559.27" y="3421.94" width="63.81" height="51.94" fill="#ffc400"/>
<rect x="622.49" y="3421.94" width="63.81" height="51.94" fill="#ffc800"/>
<rect x="685.70" y="3421.94" width="63.81" height="51.94" fill="#ffc800"/>
<rect x="748.92" y="3421.94" width="63.81" height="51.94" fill="#ffc800"/>
<rect x="812.13" y="3421.94" width="63.81" height="51.94" fill="#ffe000"/>
<rect x="875.35" y="3421.94" width="63.81" height="51.94" fill="#fff000"/>
<rect x="938.57" y="3421.94" width="63.81" height="51.94" fill="#e8ff10"/>
<rect x="1001.78" y="3421.94" width="63.81" height="51.94" fill="#d0ff28"/>
<rect x="1064.99" y="3421.94" width="63.81" height="51.94" fill="#c0ff38"/>
<rect x="1128.21" y="3421.94" width="63.81" height="51.94" fill="#b0ff48"/>
<rect x="1191.42" y="3421.94" width="63.81" height="51.94" fill="#a0ff58"/>
<rect x="1254.64" y="3421.94" width="63.81" height="51.94" fill="#90ff68"/>
<rect x="1317.86" y="3421.94" width="63.81" height="51.94" fill="#88ff70"/>
<rect x="1381.07" y="3421.94" width="63.81" height="51.94" fill="#70ff88"/>
<rect x="1444.29" y="3421.94" width="63.81" height="51.94" fill="#38ffc0"/>
<rect x="243.20" y="3473.28" width="63.81" height="51.94" fill="#ffc000"/>
<rect x="306.41" y="3473.28" width="63.81" height="51.94" fill="#ffd000"/>
<rect x="369.63" y="3473.28" width="63.81" height="51.94" fill="#ffd000"/>
<rect x="432.84" y="3473.28" width="63.81" height="51.94" fill="#ffa800"/>
<rect x="496.06" y="3473.28" width="63.81" height="51.94" fill="#ffa800"/>
<rect x="559.27" y="3473.28" width="63.81" height="51.94" fill="#ffa800"/>
<rect x="622.49" y="3473.28" width="63.81" height="51.94" fill="#ffa400"/>
<rect x="685.70" y="3473.28" width="63.81" height="51.94" fill="#ffa800"/>
<rect x="748.92" y="3473.28" width="63.81" height="51.94" fill="#ffa800"/>
<rect x="812.13" y="3473.28" width="63.81" height="51.94" fill="#ffb000"/>
<rect x="875.35" y="3473.28" width="63.81" height="51.94" fill="#ffb800"/>
<rect x="938.57" y="3473.28" width="63.81" height="51.94" fill="#ffc800"/>
<rect x="1001.78" y="3473.28" width="63.81" height="51.94" fill="#ffd800"/>
<rect x="1064.99" y="3473.28" width="63.81" height="51.94" fill="#ffe000"/>
<rect x="1128.21" y="3473.28" width="63.81" height="51.94" fill="#ffe800"/>
<rect x="1191.42" y="3473.28" width="63.81" height="51.94" fill="#f0ff08"/>
<rect x="1254.64" y="3473.28" width="63.81" height="51.94" fill="#ecff10"/>
<rect x="1317.86" y="3473.28" width="63.81" height="51.94" fill="#e8ff10"/>
<rect x="1381.07" y="3473.28" width="63.81" height="51.94" fill="#d8ff20"/>
<rect x="1444.29" y="3473.28" width="63.81" height="51.94" fill="#b8ff40"/>
<rect x="243.20" y="3524.62" width="63.81" height="51.94" fill="#ffc000"/>
<rect x="306.41" y="3524.62" width="63.81" height="51.94" fill="#ffc800"/>
<rect x="369.63" y="3524.62" width="63.81" height="51.94" fill="#ffc400"/>
<rect x="432.84" y="3524.62" width="63.81" height="51.94" fill="#ffa000"/>
<rect x="496.06" y="3524.62" width="63.81" height="51.94" fill="#ffa000"/>
<rect x="559.27" y="3524.62" width="63.81" height="51.94" fill="#ff9c00"/>
<rect x="622.49" y="3524.62" width="63.81" height="51.94" fill="#ff9800"/>
<rect x="685.70" y="3524.62" width="63.81" height="51.94" fill="#ff9400"/>
<rect x="748.92" y="3524.62" width="63.81" height="51.94" fill="#ff9000"/>
<rect x="812.13" y="3524.62" width="63.81" height="51.94" fill="#ff9800"/>
<rect x="875.35" y="3524.62" width="63.81" height="51.94" fill="#ffa000"/>
<rect x="938.57" y="3524.62" width="63.81" height="51.94" fill="#ffa000"/>
<rect x="1001.78" y="3524.62" width="63.81" height="51.94" fill="#ffa800"/>
<rect x="1064.99" y="3524.62" width="63.81" height="51.94" fill="#ffa800"/>
<rect x="1128.21" y="3524.62" width="63.81" height="51.94" fill="#ffb000"/>
<rect x="1191.42" y="3524.62" width="63.81" height="51.94" fill="#ffb400"/>
<rect x="1254.64" y="3524.62" width="63.81" height="51.94" fill="#ffb800"/>
<rect x="1317.86" y="3524.62" width="63.81" height="51.94" fill="#ffc000"/>
<rect x="1381.07" y="3524.62" width="63.81" height="51.94" fill="#ffd000"/>
<rect x="1444.29" y="3524.62" width="63.81" height="51.94" fill="#ffe000"/>
<rect x="243.20" y="3575.96" width="63.81" height="51.94" fill="#ffb800"/>
<rect x="306.41" y="3575.96" width="63.81" height="51.94" fill="#ffd800"/>
<rect x="369.63" y="3575.96" width="63.81" height="51.94" fill="#ffd400"/>
<rect x="432.84" y="3575.96" width="63.81" height="51.94" fill="#ffb800"/>
<rect x="496.06" y="3575.96" width="63.81" height="51.94" fill="#ffb000"/>
<rect x="559.27" y="3575.96" width="63.81" height="51.94" fill="#ffb000"/>
<rect x="622.49" y="3575.96" width="63.81" height="51.94" fill="#ffa000"/>
<rect x="685.70" y="3575.96" width="63.81" height="51.94" fill="#ff9000"/>
<rect x="748.92" y="3575.96" width="63.81" height="51.94" fill="#ff8400"/>
<rect x="812.13" y="3575.96" width="63.81" height="51.94" fill="#ff8000"/>
<rect x="875.35" y="3575.96" width="63.81" height="51.94" fill="#ff7800"/>
<rect x="938.57" y="3575.96" width="63.81" height="51.94" fill="#ff7000"/>
<rect x="1001.78" y="3575.96" width="63.81" height="51.94" fill="#ff6000"/>
<rect x="1064.99" y="3575.96" width="63.81" height="51.94" fill="#ff5000"/>
<rect x="1128.21" y="3575.96" width="63.81" height="51.94" fill="#ff4000"/>
<rect x="1191.42" y="3575.96" width="63.81" height="51.94" fill="#ff2c00"/>
<rect x="1254.64" y="3575.96" width="63.81" height="51.94" fill="#ff1800"/>
<rect x="1317.86" y="3575.96" width="63.81" height="51.94" fill="#f00000"/>
<rect x="1381.07" y="3575.96" width="63.81" height="51.94" fill="#b80000"/>
<rect x="1444.29" y="3575.96" width="63.81" height="51.94" fill="#680000"/>
</g>
<rect x="243.20" y="2600.50" width="1264.30" height="1026.80" fill="none" stroke="#1a1a1a" stroke-width="3.0"/>
<line x1="485.84" y1="3627.30" x2="485.84" y2="3643.30" stroke="#1a1a1a" stroke-width="3.0"/>
<text x="485.84" y="3697.30" font-family="'DejaVu Sans', 'Liberation Sans', sans-serif" font-size="48.5" text-anchor="middle" fill="#111" >20</text>
<line x1="741.26" y1="3627.30" x2="741.26" y2="3643.30" stroke="#1a1a1a" stroke-width="3.0"/>
<text x="741.26" y="3697.30" font-family="'DejaVu Sans', 'Liberation Sans', sans-serif" font-size="48.5" text-anchor="middle" fill="#111" >40</text>
<line x1="996.67" y1="3627.30" x2="996.67" y2="3643.30" stroke="#1a1a1a" stroke-width="3.0"/>
<text x="996.67" y="3697.30" font-family="'DejaVu Sans', 'Liberation Sans', sans-serif" font-size="48.5" text-anchor="middle" fill="#111" >60</text>
<line x1="1252.09" y1="3627.30" x2="1252.09" y2="3643.30" stroke="#1a1a1a" stroke-width="3.0"/>
<text x="1252.09" y="3697.30" font-family="'DejaVu Sans', 'Liberation Sans', sans-serif" font-size="48.5" text-anchor="middle" fill="#111" >80</text>
<line x1="1507.50" y1="3627.30" x2="1507.50" y2="3643.30" stroke="#1a1a1a" stroke-width="3.0"/>
<text x="1507.50" y="3697.30" font-family="'DejaVu Sans', 'Liberation Sans', sans-serif" font-size="48.5" text-anchor="middle" fill="#111" >100</text>
<line x1="227.20" y1="3521.30" x2="243.20" y2="3521.30" stroke="#1a1a1a" stroke-width="3.0"/>
<text x="211.20" y="3540.30" font-family="'DejaVu Sans', 'Liberation Sans', sans-serif" font-size="48.5" text-anchor="end" fill="#111" >0.0</text>
<line x1="227.20" y1="3386.30" x2="243.20" y2="3386.30" stroke="#1a1a1a" stroke-width="3.0"/>
<text x="211.20" y="3405.30" font-family="'DejaVu Sans', 'Liberation Sans', sans-serif" font-size="48.5" text-anchor="end" fill="#111" >2.5</text>
<line x1="227.20" y1="3251.30" x2="243.20" y2="3251.30" stroke="#1a1a1a" stroke-width="3.0"/>
<text x="211.20" y="3270.30" font-family="'DejaVu Sans', 'Liberation Sans', sans-serif" font-size="48.5" text-anchor="end" fill="#111" >5.0</text>
<line x1="227.20" y1="3116.30" x2="243.20" y2="3116.30" stroke="#1a1a1a" stroke-width="3.0"/>
<text x="211.20" y="3135.30" font-family="'DejaVu Sans', 'Liberation Sans', sans-serif" font-size="48.5" text-anchor="end" fill="#111" >7.5</text>
<line x1="227.20" y1="2981.30" x2="243.20" y2="2981.30" stroke="#1a1a1a" stroke-width="3.0"/>
<text x="211.20" y="3000.30" font-family="'DejaVu Sans', 'Liberation Sans', sans-serif" font-size="48.5" text-anchor="end" fill="#111" >10.0</text>
<line x1="227.20" y1="2846.30" x2="243.20" y2="2846.30" stroke="#1a1a1a" stroke-width="3.0"/>
<text x="211.20" y="2865.30" font-family="'DejaVu Sans', 'Liberation Sans', sans-serif" font-size="48.5" text-anchor="end" fill="#111" >12.5</text>
<line x1="227.20" y1="2711.30" x2="243.20" y2="2711.30" stroke="#1a1a1a" stroke-width="3.0"/>
<text x="211.20" y="2730.30" font-family="'DejaVu Sans', 'Liberation Sans', sans-serif" font-size="48.5" text-anchor="end" fill="#111" >15.0</text>
<text transform="translate(71.70,3111.90) rotate(-90)" font-family="'DejaVu Sans', 'Liberation Sans', sans-serif" font-size="70.5" letter-spacing="0.6" text-anchor="middle" fill="#111" >GPB SST [°C]</text>
<text x="877.15" y="3780.50" font-family="'DejaVu Sans', 'Liberation Sans', sans-serif" font-size="70.5" letter-spacing="0.6" text-anchor="middle" fill="#111" >GPB SIC [%]</text>
<rect x="1586.40" y="2600.50" width="53.70" height="1026.80" fill="url(#gC)"/>
<rect x="1586.40" y="2600.50" width="53.70" height="1026.80" fill="none" stroke="#1a1a1a" stroke-width="3.0"/>
<line x1="1640.10" y1="3627.30" x2="1656.10" y2="3627.30" stroke="#1a1a1a" stroke-width="3.0"/>
<text x="1672.10" y="3646.80" font-family="'DejaVu Sans', 'Liberation Sans', sans-serif" font-size="48.5" fill="#111" >10<tspan dy="-19.5" font-size="33.9">0</tspan></text>
<line x1="1640.10" y1="3375.50" x2="1656.10" y2="3375.50" stroke="#1a1a1a" stroke-width="3.0"/>
<text x="1672.10" y="3395.00" font-family="'DejaVu Sans', 'Liberation Sans', sans-serif" font-size="48.5" fill="#111" >10<tspan dy="-19.5" font-size="33.9">2</tspan></text>
<line x1="1640.10" y1="3123.70" x2="1656.10" y2="3123.70" stroke="#1a1a1a" stroke-width="3.0"/>
<text x="1672.10" y="3143.20" font-family="'DejaVu Sans', 'Liberation Sans', sans-serif" font-size="48.5" fill="#111" >10<tspan dy="-19.5" font-size="33.9">4</tspan></text>
<line x1="1640.10" y1="2871.90" x2="1656.10" y2="2871.90" stroke="#1a1a1a" stroke-width="3.0"/>
<text x="1672.10" y="2891.40" font-family="'DejaVu Sans', 'Liberation Sans', sans-serif" font-size="48.5" fill="#111" >10<tspan dy="-19.5" font-size="33.9">6</tspan></text>
<line x1="1640.10" y1="2620.10" x2="1656.10" y2="2620.10" stroke="#1a1a1a" stroke-width="3.0"/>
<text x="1672.10" y="2639.60" font-family="'DejaVu Sans', 'Liberation Sans', sans-serif" font-size="48.5" fill="#111" >10<tspan dy="-19.5" font-size="33.9">8</tspan></text>
<text transform="translate(1825.00,3115.80) rotate(-90)" font-family="'DejaVu Sans', 'Liberation Sans', sans-serif" font-size="70.5" letter-spacing="0.6" text-anchor="middle" fill="#111" >Bin Density</text>
<text x="1366.40" y="2699.40" font-family="'Liberation Sans', 'DejaVu Sans', sans-serif" font-size="80" fill="#000" stroke="#fff" stroke-width="1.3">(<tspan font-size="73.6" dx="2">c</tspan><tspan dx="2">)</tspan></text>
</svg>
</body></html>
